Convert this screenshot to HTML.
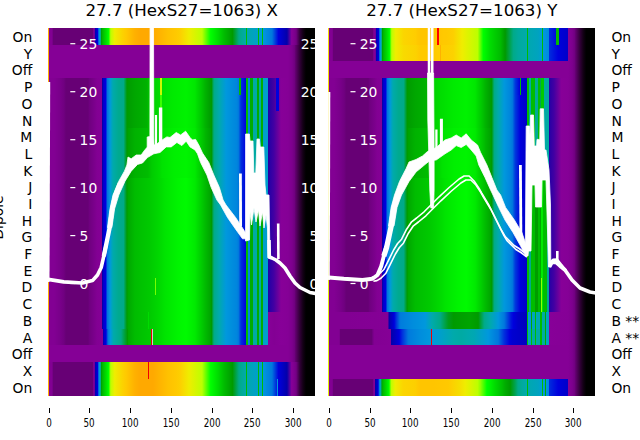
<!DOCTYPE html>
<html><head><meta charset="utf-8"><title>27.7 (HexS27=1063)</title>
<style>html,body{margin:0;padding:0;background:#fff;overflow:hidden;width:640px;height:440px}svg{display:block}</style></head>
<body>
<svg width="640" height="440" viewBox="0 0 640 440">
<defs>
<clipPath id="c0"><rect x="48.0" y="28.0" width="267.0" height="367.30"/></clipPath>
<linearGradient id="g0" x1="0" y1="0" x2="1" y2="0"><stop offset="0.0000" stop-color="#ffad00"/><stop offset="0.0034" stop-color="#ffad00"/><stop offset="0.0034" stop-color="#820093"/><stop offset="0.0150" stop-color="#820093"/><stop offset="0.0183" stop-color="#700080"/><stop offset="0.0187" stop-color="#670075"/><stop offset="0.1667" stop-color="#670075"/><stop offset="0.1671" stop-color="#700080"/><stop offset="0.1712" stop-color="#820093"/><stop offset="0.1738" stop-color="#850096"/><stop offset="0.1740" stop-color="#870098"/><stop offset="0.1749" stop-color="#0300aa"/><stop offset="0.1861" stop-color="#0000dd"/><stop offset="0.1897" stop-color="#0078dd"/><stop offset="0.1918" stop-color="#008add"/><stop offset="0.1927" stop-color="#0098dd"/><stop offset="0.1950" stop-color="#00aaab"/><stop offset="0.1974" stop-color="#00aa88"/><stop offset="0.1997" stop-color="#009a00"/><stop offset="0.2011" stop-color="#00ac00"/><stop offset="0.2056" stop-color="#00bc00"/><stop offset="0.2169" stop-color="#00dc00"/><stop offset="0.2236" stop-color="#00f200"/><stop offset="0.2268" stop-color="#00ff00"/><stop offset="0.2348" stop-color="#bcff00"/><stop offset="0.2498" stop-color="#efed00"/><stop offset="0.2798" stop-color="#fcd200"/><stop offset="0.2926" stop-color="#ffc900"/><stop offset="0.3247" stop-color="#ffb100"/><stop offset="0.3446" stop-color="#ffa900"/><stop offset="0.3933" stop-color="#ffa900"/><stop offset="0.4494" stop-color="#ffc100"/><stop offset="0.4794" stop-color="#ffc900"/><stop offset="0.4944" stop-color="#fdcf00"/><stop offset="0.5281" stop-color="#efed00"/><stop offset="0.5768" stop-color="#bcff00"/><stop offset="0.6090" stop-color="#00ff00"/><stop offset="0.6367" stop-color="#00dc00"/><stop offset="0.6592" stop-color="#00bc00"/><stop offset="0.6910" stop-color="#009a00"/><stop offset="0.7154" stop-color="#00aa88"/><stop offset="0.7416" stop-color="#00aaab"/><stop offset="0.7427" stop-color="#00aaab"/><stop offset="0.7427" stop-color="#00bc00"/><stop offset="0.7464" stop-color="#00bc00"/><stop offset="0.7464" stop-color="#00a8af"/><stop offset="0.7865" stop-color="#009fcb"/><stop offset="0.7880" stop-color="#009fcb"/><stop offset="0.7880" stop-color="#00bc00"/><stop offset="0.7914" stop-color="#00bc00"/><stop offset="0.7914" stop-color="#009ecf"/><stop offset="0.8000" stop-color="#009bd7"/><stop offset="0.8000" stop-color="#00bc00"/><stop offset="0.8034" stop-color="#00bc00"/><stop offset="0.8034" stop-color="#009adb"/><stop offset="0.8052" stop-color="#0098dd"/><stop offset="0.8390" stop-color="#0078dd"/><stop offset="0.8633" stop-color="#0000dd"/><stop offset="0.8951" stop-color="#0300aa"/><stop offset="0.9124" stop-color="#870098"/><stop offset="0.9251" stop-color="#7a008b"/><stop offset="0.9300" stop-color="#700080"/><stop offset="0.9438" stop-color="#2f0035"/><stop offset="0.9551" stop-color="#130015"/><stop offset="0.9663" stop-color="#000000"/><stop offset="1.0000" stop-color="#000000"/></linearGradient>
<linearGradient id="g1" x1="0" y1="0" x2="1" y2="0"><stop offset="0.0000" stop-color="#ffad00"/><stop offset="0.0034" stop-color="#ffad00"/><stop offset="0.0034" stop-color="#850096"/><stop offset="0.8801" stop-color="#850096"/><stop offset="0.8989" stop-color="#850096"/><stop offset="0.9139" stop-color="#7d008e"/><stop offset="0.9232" stop-color="#700080"/><stop offset="0.9251" stop-color="#670075"/><stop offset="0.9438" stop-color="#2f0035"/><stop offset="0.9551" stop-color="#130015"/><stop offset="0.9663" stop-color="#000000"/><stop offset="1.0000" stop-color="#000000"/></linearGradient>
<linearGradient id="g2" x1="0" y1="0" x2="1" y2="0"><stop offset="0.0000" stop-color="#ffad00"/><stop offset="0.0034" stop-color="#ffad00"/><stop offset="0.0034" stop-color="#820093"/><stop offset="0.0225" stop-color="#820093"/><stop offset="0.0449" stop-color="#79008a"/><stop offset="0.0599" stop-color="#700080"/><stop offset="0.0674" stop-color="#670075"/><stop offset="0.1498" stop-color="#670075"/><stop offset="0.1558" stop-color="#700080"/><stop offset="0.1723" stop-color="#7a008b"/><stop offset="0.1835" stop-color="#820093"/><stop offset="0.2030" stop-color="#850096"/><stop offset="0.2032" stop-color="#870098"/><stop offset="0.2041" stop-color="#0300aa"/><stop offset="0.2079" stop-color="#0000cd"/><stop offset="0.2154" stop-color="#0000dd"/><stop offset="0.2228" stop-color="#0078dd"/><stop offset="0.2322" stop-color="#0098dd"/><stop offset="0.2434" stop-color="#00aaab"/><stop offset="0.2640" stop-color="#00aa90"/><stop offset="0.2828" stop-color="#00aa88"/><stop offset="0.2959" stop-color="#009a00"/><stop offset="0.2996" stop-color="#009c00"/><stop offset="0.3258" stop-color="#00a700"/><stop offset="0.3708" stop-color="#00b200"/><stop offset="0.3750" stop-color="#00bc00"/><stop offset="0.3820" stop-color="#00cc00"/><stop offset="0.4195" stop-color="#00dc00"/><stop offset="0.4195" stop-color="#ccf900"/><stop offset="0.4266" stop-color="#ccf900"/><stop offset="0.4266" stop-color="#00df00"/><stop offset="0.4682" stop-color="#00ea00"/><stop offset="0.5169" stop-color="#00f200"/><stop offset="0.5506" stop-color="#00e700"/><stop offset="0.5581" stop-color="#00dc00"/><stop offset="0.5730" stop-color="#00ca00"/><stop offset="0.5830" stop-color="#00bc00"/><stop offset="0.5880" stop-color="#00b400"/><stop offset="0.6067" stop-color="#009f00"/><stop offset="0.6124" stop-color="#009a00"/><stop offset="0.6217" stop-color="#00aa88"/><stop offset="0.6404" stop-color="#00aaab"/><stop offset="0.6667" stop-color="#0098dd"/><stop offset="0.7079" stop-color="#0085dd"/><stop offset="0.7139" stop-color="#0078dd"/><stop offset="0.7169" stop-color="#005ddd"/><stop offset="0.7169" stop-color="#00bc00"/><stop offset="0.7236" stop-color="#00bc00"/><stop offset="0.7236" stop-color="#002fdd"/><stop offset="0.7416" stop-color="#0000dd"/><stop offset="0.7434" stop-color="#0000dd"/><stop offset="0.7434" stop-color="#00bc00"/><stop offset="0.7509" stop-color="#00bc00"/><stop offset="0.7509" stop-color="#0085dd"/><stop offset="0.7584" stop-color="#0085dd"/><stop offset="0.7584" stop-color="#00ac00"/><stop offset="0.7678" stop-color="#00ac00"/><stop offset="0.7678" stop-color="#00aaa3"/><stop offset="0.7846" stop-color="#00aaa3"/><stop offset="0.7846" stop-color="#00ac00"/><stop offset="0.7903" stop-color="#00ac00"/><stop offset="0.7903" stop-color="#00aaa3"/><stop offset="0.7963" stop-color="#00aaa3"/><stop offset="0.7963" stop-color="#00ac00"/><stop offset="0.8052" stop-color="#00ac00"/><stop offset="0.8052" stop-color="#009fcb"/><stop offset="0.8258" stop-color="#009fcb"/><stop offset="0.8258" stop-color="#2300a6"/><stop offset="0.8464" stop-color="#4300a2"/><stop offset="0.8539" stop-color="#58009f"/><stop offset="0.8539" stop-color="#0000dd"/><stop offset="0.8652" stop-color="#0000dd"/><stop offset="0.8652" stop-color="#78009b"/><stop offset="0.8727" stop-color="#870098"/><stop offset="0.8989" stop-color="#850096"/><stop offset="0.9139" stop-color="#7d008e"/><stop offset="0.9232" stop-color="#700080"/><stop offset="0.9251" stop-color="#670075"/><stop offset="0.9438" stop-color="#2f0035"/><stop offset="0.9551" stop-color="#130015"/><stop offset="0.9663" stop-color="#000000"/><stop offset="1.0000" stop-color="#000000"/></linearGradient>
<linearGradient id="g3" x1="0" y1="0" x2="1" y2="0"><stop offset="0.0000" stop-color="#ffad00"/><stop offset="0.0034" stop-color="#ffad00"/><stop offset="0.0034" stop-color="#820093"/><stop offset="0.0225" stop-color="#820093"/><stop offset="0.0449" stop-color="#79008a"/><stop offset="0.0599" stop-color="#700080"/><stop offset="0.0674" stop-color="#670075"/><stop offset="0.1498" stop-color="#670075"/><stop offset="0.1558" stop-color="#700080"/><stop offset="0.1723" stop-color="#7a008b"/><stop offset="0.1835" stop-color="#820093"/><stop offset="0.2030" stop-color="#850096"/><stop offset="0.2032" stop-color="#870098"/><stop offset="0.2041" stop-color="#0300aa"/><stop offset="0.2079" stop-color="#0000cd"/><stop offset="0.2154" stop-color="#0000dd"/><stop offset="0.2228" stop-color="#0078dd"/><stop offset="0.2322" stop-color="#0098dd"/><stop offset="0.2434" stop-color="#00aaab"/><stop offset="0.2640" stop-color="#00aa90"/><stop offset="0.2828" stop-color="#00aa88"/><stop offset="0.2959" stop-color="#009a00"/><stop offset="0.2996" stop-color="#009c00"/><stop offset="0.3258" stop-color="#00a700"/><stop offset="0.3708" stop-color="#00b200"/><stop offset="0.3750" stop-color="#00bc00"/><stop offset="0.3820" stop-color="#00cc00"/><stop offset="0.4195" stop-color="#00dc00"/><stop offset="0.4206" stop-color="#00dc00"/><stop offset="0.4206" stop-color="#3bff00"/><stop offset="0.4251" stop-color="#3bff00"/><stop offset="0.4251" stop-color="#00df00"/><stop offset="0.4682" stop-color="#00ea00"/><stop offset="0.5169" stop-color="#00f200"/><stop offset="0.5506" stop-color="#00e700"/><stop offset="0.5581" stop-color="#00dc00"/><stop offset="0.5730" stop-color="#00ca00"/><stop offset="0.5830" stop-color="#00bc00"/><stop offset="0.5880" stop-color="#00b400"/><stop offset="0.6067" stop-color="#009f00"/><stop offset="0.6124" stop-color="#009a00"/><stop offset="0.6217" stop-color="#00aa88"/><stop offset="0.6404" stop-color="#00aaab"/><stop offset="0.6667" stop-color="#0098dd"/><stop offset="0.7079" stop-color="#0085dd"/><stop offset="0.7139" stop-color="#0078dd"/><stop offset="0.7228" stop-color="#002fdd"/><stop offset="0.7416" stop-color="#0000dd"/><stop offset="0.7434" stop-color="#0000dd"/><stop offset="0.7434" stop-color="#00bc00"/><stop offset="0.7509" stop-color="#00bc00"/><stop offset="0.7509" stop-color="#0085dd"/><stop offset="0.7584" stop-color="#0085dd"/><stop offset="0.7584" stop-color="#00ac00"/><stop offset="0.7678" stop-color="#00ac00"/><stop offset="0.7678" stop-color="#00aaa3"/><stop offset="0.7846" stop-color="#00aaa3"/><stop offset="0.7846" stop-color="#00ac00"/><stop offset="0.7903" stop-color="#00ac00"/><stop offset="0.7903" stop-color="#00aaa3"/><stop offset="0.7963" stop-color="#00aaa3"/><stop offset="0.7963" stop-color="#00ac00"/><stop offset="0.8052" stop-color="#00ac00"/><stop offset="0.8052" stop-color="#009fcb"/><stop offset="0.8258" stop-color="#009fcb"/><stop offset="0.8258" stop-color="#2300a6"/><stop offset="0.8464" stop-color="#4300a2"/><stop offset="0.8539" stop-color="#58009f"/><stop offset="0.8539" stop-color="#0000dd"/><stop offset="0.8652" stop-color="#0000dd"/><stop offset="0.8652" stop-color="#78009b"/><stop offset="0.8727" stop-color="#870098"/><stop offset="0.8989" stop-color="#850096"/><stop offset="0.9139" stop-color="#7d008e"/><stop offset="0.9232" stop-color="#700080"/><stop offset="0.9251" stop-color="#670075"/><stop offset="0.9438" stop-color="#2f0035"/><stop offset="0.9551" stop-color="#130015"/><stop offset="0.9663" stop-color="#000000"/><stop offset="1.0000" stop-color="#000000"/></linearGradient>
<linearGradient id="g4" x1="0" y1="0" x2="1" y2="0"><stop offset="0.0000" stop-color="#ffad00"/><stop offset="0.0034" stop-color="#ffad00"/><stop offset="0.0034" stop-color="#820093"/><stop offset="0.0225" stop-color="#820093"/><stop offset="0.0449" stop-color="#79008a"/><stop offset="0.0599" stop-color="#700080"/><stop offset="0.0674" stop-color="#670075"/><stop offset="0.1498" stop-color="#670075"/><stop offset="0.1558" stop-color="#700080"/><stop offset="0.1723" stop-color="#7a008b"/><stop offset="0.1835" stop-color="#820093"/><stop offset="0.2030" stop-color="#850096"/><stop offset="0.2032" stop-color="#870098"/><stop offset="0.2041" stop-color="#0300aa"/><stop offset="0.2079" stop-color="#0000cd"/><stop offset="0.2154" stop-color="#0000dd"/><stop offset="0.2228" stop-color="#0078dd"/><stop offset="0.2322" stop-color="#0098dd"/><stop offset="0.2434" stop-color="#00aaab"/><stop offset="0.2640" stop-color="#00aa90"/><stop offset="0.2828" stop-color="#00aa88"/><stop offset="0.2959" stop-color="#009a00"/><stop offset="0.2996" stop-color="#009c00"/><stop offset="0.3258" stop-color="#00a700"/><stop offset="0.3708" stop-color="#00b200"/><stop offset="0.3750" stop-color="#00bc00"/><stop offset="0.3820" stop-color="#00cc00"/><stop offset="0.4195" stop-color="#00dc00"/><stop offset="0.4682" stop-color="#00ea00"/><stop offset="0.5169" stop-color="#00f200"/><stop offset="0.5506" stop-color="#00e700"/><stop offset="0.5581" stop-color="#00dc00"/><stop offset="0.5730" stop-color="#00ca00"/><stop offset="0.5830" stop-color="#00bc00"/><stop offset="0.5880" stop-color="#00b400"/><stop offset="0.6067" stop-color="#009f00"/><stop offset="0.6124" stop-color="#009a00"/><stop offset="0.6217" stop-color="#00aa88"/><stop offset="0.6404" stop-color="#00aaab"/><stop offset="0.6667" stop-color="#0098dd"/><stop offset="0.7079" stop-color="#0085dd"/><stop offset="0.7139" stop-color="#0078dd"/><stop offset="0.7228" stop-color="#002fdd"/><stop offset="0.7416" stop-color="#0000dd"/><stop offset="0.7434" stop-color="#0000dd"/><stop offset="0.7434" stop-color="#00bc00"/><stop offset="0.7509" stop-color="#00bc00"/><stop offset="0.7509" stop-color="#0085dd"/><stop offset="0.7584" stop-color="#0085dd"/><stop offset="0.7584" stop-color="#00ac00"/><stop offset="0.7678" stop-color="#00ac00"/><stop offset="0.7678" stop-color="#00aaa3"/><stop offset="0.7846" stop-color="#00aaa3"/><stop offset="0.7846" stop-color="#00ac00"/><stop offset="0.7903" stop-color="#00ac00"/><stop offset="0.7903" stop-color="#00aaa3"/><stop offset="0.7963" stop-color="#00aaa3"/><stop offset="0.7963" stop-color="#00ac00"/><stop offset="0.8052" stop-color="#00ac00"/><stop offset="0.8052" stop-color="#009fcb"/><stop offset="0.8258" stop-color="#009fcb"/><stop offset="0.8258" stop-color="#2300a6"/><stop offset="0.8464" stop-color="#4300a2"/><stop offset="0.8727" stop-color="#870098"/><stop offset="0.8989" stop-color="#850096"/><stop offset="0.9139" stop-color="#7d008e"/><stop offset="0.9232" stop-color="#700080"/><stop offset="0.9251" stop-color="#670075"/><stop offset="0.9438" stop-color="#2f0035"/><stop offset="0.9551" stop-color="#130015"/><stop offset="0.9663" stop-color="#000000"/><stop offset="1.0000" stop-color="#000000"/></linearGradient>
<linearGradient id="g5" x1="0" y1="0" x2="1" y2="0"><stop offset="0.0000" stop-color="#ffad00"/><stop offset="0.0034" stop-color="#ffad00"/><stop offset="0.0034" stop-color="#820093"/><stop offset="0.0225" stop-color="#820093"/><stop offset="0.0449" stop-color="#79008a"/><stop offset="0.0599" stop-color="#700080"/><stop offset="0.0674" stop-color="#670075"/><stop offset="0.1498" stop-color="#670075"/><stop offset="0.1558" stop-color="#700080"/><stop offset="0.1723" stop-color="#7a008b"/><stop offset="0.1835" stop-color="#820093"/><stop offset="0.2030" stop-color="#850096"/><stop offset="0.2032" stop-color="#870098"/><stop offset="0.2041" stop-color="#0300aa"/><stop offset="0.2079" stop-color="#0000cd"/><stop offset="0.2154" stop-color="#0000dd"/><stop offset="0.2228" stop-color="#0078dd"/><stop offset="0.2322" stop-color="#0098dd"/><stop offset="0.2434" stop-color="#00aaab"/><stop offset="0.2640" stop-color="#00aa90"/><stop offset="0.2828" stop-color="#00aa88"/><stop offset="0.2959" stop-color="#009a00"/><stop offset="0.2996" stop-color="#00a200"/><stop offset="0.3258" stop-color="#00b200"/><stop offset="0.3745" stop-color="#00bc00"/><stop offset="0.3895" stop-color="#00cc00"/><stop offset="0.4207" stop-color="#00dc00"/><stop offset="0.4270" stop-color="#00e200"/><stop offset="0.4719" stop-color="#00ef00"/><stop offset="0.5169" stop-color="#00f400"/><stop offset="0.5506" stop-color="#00ea00"/><stop offset="0.5600" stop-color="#00dc00"/><stop offset="0.5730" stop-color="#00cc00"/><stop offset="0.5855" stop-color="#00bc00"/><stop offset="0.5880" stop-color="#00b700"/><stop offset="0.6067" stop-color="#00a400"/><stop offset="0.6124" stop-color="#009a00"/><stop offset="0.6217" stop-color="#00aa88"/><stop offset="0.6404" stop-color="#00aaab"/><stop offset="0.6667" stop-color="#0098dd"/><stop offset="0.7079" stop-color="#0085dd"/><stop offset="0.7139" stop-color="#0078dd"/><stop offset="0.7228" stop-color="#002fdd"/><stop offset="0.7416" stop-color="#0000dd"/><stop offset="0.7434" stop-color="#0000dd"/><stop offset="0.7434" stop-color="#00bc00"/><stop offset="0.7509" stop-color="#00bc00"/><stop offset="0.7509" stop-color="#0085dd"/><stop offset="0.7584" stop-color="#0085dd"/><stop offset="0.7584" stop-color="#00ac00"/><stop offset="0.7678" stop-color="#00ac00"/><stop offset="0.7678" stop-color="#00aaa3"/><stop offset="0.7846" stop-color="#00aaa3"/><stop offset="0.7846" stop-color="#00ac00"/><stop offset="0.7903" stop-color="#00ac00"/><stop offset="0.7903" stop-color="#00aaa3"/><stop offset="0.7963" stop-color="#00aaa3"/><stop offset="0.7963" stop-color="#00ac00"/><stop offset="0.8052" stop-color="#00ac00"/><stop offset="0.8052" stop-color="#009fcb"/><stop offset="0.8258" stop-color="#009fcb"/><stop offset="0.8258" stop-color="#2300a6"/><stop offset="0.8464" stop-color="#4300a2"/><stop offset="0.8727" stop-color="#870098"/><stop offset="0.8989" stop-color="#850096"/><stop offset="0.9139" stop-color="#7d008e"/><stop offset="0.9232" stop-color="#700080"/><stop offset="0.9251" stop-color="#670075"/><stop offset="0.9438" stop-color="#2f0035"/><stop offset="0.9551" stop-color="#130015"/><stop offset="0.9663" stop-color="#000000"/><stop offset="1.0000" stop-color="#000000"/></linearGradient>
<linearGradient id="g6" x1="0" y1="0" x2="1" y2="0"><stop offset="0.0000" stop-color="#ffad00"/><stop offset="0.0034" stop-color="#ffad00"/><stop offset="0.0034" stop-color="#820093"/><stop offset="0.0225" stop-color="#820093"/><stop offset="0.0449" stop-color="#79008a"/><stop offset="0.0599" stop-color="#700080"/><stop offset="0.0674" stop-color="#670075"/><stop offset="0.1498" stop-color="#670075"/><stop offset="0.1558" stop-color="#700080"/><stop offset="0.1723" stop-color="#7a008b"/><stop offset="0.1835" stop-color="#820093"/><stop offset="0.2030" stop-color="#850096"/><stop offset="0.2032" stop-color="#870098"/><stop offset="0.2041" stop-color="#0300aa"/><stop offset="0.2079" stop-color="#0000cd"/><stop offset="0.2154" stop-color="#0000dd"/><stop offset="0.2228" stop-color="#0078dd"/><stop offset="0.2322" stop-color="#0098dd"/><stop offset="0.2434" stop-color="#00aaab"/><stop offset="0.2640" stop-color="#00aa90"/><stop offset="0.2828" stop-color="#00aa88"/><stop offset="0.2959" stop-color="#009a00"/><stop offset="0.2996" stop-color="#00a700"/><stop offset="0.3258" stop-color="#00bc00"/><stop offset="0.3820" stop-color="#00ca00"/><stop offset="0.4242" stop-color="#00dc00"/><stop offset="0.4382" stop-color="#00e400"/><stop offset="0.4869" stop-color="#00f400"/><stop offset="0.5169" stop-color="#00fa00"/><stop offset="0.5506" stop-color="#00ea00"/><stop offset="0.5618" stop-color="#00dc00"/><stop offset="0.5730" stop-color="#00cf00"/><stop offset="0.5880" stop-color="#00bc00"/><stop offset="0.6067" stop-color="#00a700"/><stop offset="0.6124" stop-color="#009a00"/><stop offset="0.6217" stop-color="#00aa88"/><stop offset="0.6404" stop-color="#00aaab"/><stop offset="0.6667" stop-color="#0098dd"/><stop offset="0.7079" stop-color="#0085dd"/><stop offset="0.7139" stop-color="#0078dd"/><stop offset="0.7228" stop-color="#002fdd"/><stop offset="0.7416" stop-color="#0000dd"/><stop offset="0.7434" stop-color="#0000dd"/><stop offset="0.7434" stop-color="#00bc00"/><stop offset="0.7509" stop-color="#00bc00"/><stop offset="0.7509" stop-color="#0085dd"/><stop offset="0.7584" stop-color="#0085dd"/><stop offset="0.7584" stop-color="#00ac00"/><stop offset="0.7678" stop-color="#00ac00"/><stop offset="0.7678" stop-color="#00aaa3"/><stop offset="0.7846" stop-color="#00aaa3"/><stop offset="0.7846" stop-color="#00ac00"/><stop offset="0.7903" stop-color="#00ac00"/><stop offset="0.7903" stop-color="#00aaa3"/><stop offset="0.7963" stop-color="#00aaa3"/><stop offset="0.7963" stop-color="#00ac00"/><stop offset="0.8052" stop-color="#00ac00"/><stop offset="0.8052" stop-color="#009fcb"/><stop offset="0.8258" stop-color="#009fcb"/><stop offset="0.8258" stop-color="#2300a6"/><stop offset="0.8464" stop-color="#4300a2"/><stop offset="0.8727" stop-color="#870098"/><stop offset="0.8989" stop-color="#850096"/><stop offset="0.9139" stop-color="#7d008e"/><stop offset="0.9232" stop-color="#700080"/><stop offset="0.9251" stop-color="#670075"/><stop offset="0.9438" stop-color="#2f0035"/><stop offset="0.9551" stop-color="#130015"/><stop offset="0.9663" stop-color="#000000"/><stop offset="1.0000" stop-color="#000000"/></linearGradient>
<linearGradient id="g7" x1="0" y1="0" x2="1" y2="0"><stop offset="0.0000" stop-color="#ffad00"/><stop offset="0.0034" stop-color="#ffad00"/><stop offset="0.0034" stop-color="#820093"/><stop offset="0.0225" stop-color="#820093"/><stop offset="0.0449" stop-color="#79008a"/><stop offset="0.0599" stop-color="#700080"/><stop offset="0.0674" stop-color="#670075"/><stop offset="0.1498" stop-color="#670075"/><stop offset="0.1558" stop-color="#700080"/><stop offset="0.1723" stop-color="#7a008b"/><stop offset="0.1835" stop-color="#820093"/><stop offset="0.2030" stop-color="#850096"/><stop offset="0.2032" stop-color="#870098"/><stop offset="0.2041" stop-color="#0300aa"/><stop offset="0.2079" stop-color="#0000cd"/><stop offset="0.2154" stop-color="#0000dd"/><stop offset="0.2228" stop-color="#0078dd"/><stop offset="0.2322" stop-color="#0098dd"/><stop offset="0.2434" stop-color="#00aaab"/><stop offset="0.2640" stop-color="#00aa90"/><stop offset="0.2828" stop-color="#00aa88"/><stop offset="0.2959" stop-color="#009a00"/><stop offset="0.2996" stop-color="#00a700"/><stop offset="0.3258" stop-color="#00bc00"/><stop offset="0.3820" stop-color="#00ca00"/><stop offset="0.4015" stop-color="#00d200"/><stop offset="0.4015" stop-color="#75ff00"/><stop offset="0.4052" stop-color="#75ff00"/><stop offset="0.4052" stop-color="#00d400"/><stop offset="0.4242" stop-color="#00dc00"/><stop offset="0.4382" stop-color="#00e400"/><stop offset="0.4869" stop-color="#00f400"/><stop offset="0.5169" stop-color="#00fa00"/><stop offset="0.5506" stop-color="#00ea00"/><stop offset="0.5618" stop-color="#00dc00"/><stop offset="0.5730" stop-color="#00cf00"/><stop offset="0.5880" stop-color="#00bc00"/><stop offset="0.6067" stop-color="#00a700"/><stop offset="0.6124" stop-color="#009a00"/><stop offset="0.6217" stop-color="#00aa88"/><stop offset="0.6404" stop-color="#00aaab"/><stop offset="0.6667" stop-color="#0098dd"/><stop offset="0.7079" stop-color="#0085dd"/><stop offset="0.7139" stop-color="#0078dd"/><stop offset="0.7228" stop-color="#002fdd"/><stop offset="0.7416" stop-color="#0000dd"/><stop offset="0.7434" stop-color="#0000dd"/><stop offset="0.7434" stop-color="#00bc00"/><stop offset="0.7509" stop-color="#00bc00"/><stop offset="0.7509" stop-color="#0085dd"/><stop offset="0.7584" stop-color="#0085dd"/><stop offset="0.7584" stop-color="#00ac00"/><stop offset="0.7678" stop-color="#00ac00"/><stop offset="0.7678" stop-color="#00aaa3"/><stop offset="0.7846" stop-color="#00aaa3"/><stop offset="0.7846" stop-color="#00ac00"/><stop offset="0.7903" stop-color="#00ac00"/><stop offset="0.7903" stop-color="#00aaa3"/><stop offset="0.7963" stop-color="#00aaa3"/><stop offset="0.7963" stop-color="#00ac00"/><stop offset="0.8052" stop-color="#00ac00"/><stop offset="0.8052" stop-color="#009fcb"/><stop offset="0.8258" stop-color="#009fcb"/><stop offset="0.8258" stop-color="#2300a6"/><stop offset="0.8464" stop-color="#4300a2"/><stop offset="0.8727" stop-color="#870098"/><stop offset="0.8989" stop-color="#850096"/><stop offset="0.9139" stop-color="#7d008e"/><stop offset="0.9232" stop-color="#700080"/><stop offset="0.9251" stop-color="#670075"/><stop offset="0.9438" stop-color="#2f0035"/><stop offset="0.9551" stop-color="#130015"/><stop offset="0.9663" stop-color="#000000"/><stop offset="1.0000" stop-color="#000000"/></linearGradient>
<linearGradient id="g8" x1="0" y1="0" x2="1" y2="0"><stop offset="0.0000" stop-color="#ffad00"/><stop offset="0.0034" stop-color="#ffad00"/><stop offset="0.0034" stop-color="#820093"/><stop offset="0.0225" stop-color="#820093"/><stop offset="0.0449" stop-color="#79008a"/><stop offset="0.0599" stop-color="#700080"/><stop offset="0.0674" stop-color="#670075"/><stop offset="0.1498" stop-color="#670075"/><stop offset="0.1558" stop-color="#700080"/><stop offset="0.1723" stop-color="#7a008b"/><stop offset="0.1835" stop-color="#820093"/><stop offset="0.2030" stop-color="#850096"/><stop offset="0.2032" stop-color="#870098"/><stop offset="0.2041" stop-color="#0300aa"/><stop offset="0.2079" stop-color="#0000cd"/><stop offset="0.2154" stop-color="#0000dd"/><stop offset="0.2228" stop-color="#0078dd"/><stop offset="0.2322" stop-color="#0098dd"/><stop offset="0.2434" stop-color="#00aaab"/><stop offset="0.2640" stop-color="#00aa90"/><stop offset="0.2828" stop-color="#00aa88"/><stop offset="0.2959" stop-color="#009a00"/><stop offset="0.2996" stop-color="#00a700"/><stop offset="0.3258" stop-color="#00bc00"/><stop offset="0.3757" stop-color="#00c700"/><stop offset="0.3757" stop-color="#00dc00"/><stop offset="0.3783" stop-color="#00dc00"/><stop offset="0.3783" stop-color="#00c700"/><stop offset="0.3820" stop-color="#00ca00"/><stop offset="0.4242" stop-color="#00dc00"/><stop offset="0.4382" stop-color="#00e400"/><stop offset="0.4869" stop-color="#00f400"/><stop offset="0.5169" stop-color="#00fa00"/><stop offset="0.5506" stop-color="#00ea00"/><stop offset="0.5618" stop-color="#00dc00"/><stop offset="0.5730" stop-color="#00cf00"/><stop offset="0.5880" stop-color="#00bc00"/><stop offset="0.6067" stop-color="#00a700"/><stop offset="0.6124" stop-color="#009a00"/><stop offset="0.6217" stop-color="#00aa88"/><stop offset="0.6404" stop-color="#00aaab"/><stop offset="0.6667" stop-color="#0098dd"/><stop offset="0.7079" stop-color="#0085dd"/><stop offset="0.7139" stop-color="#0078dd"/><stop offset="0.7228" stop-color="#002fdd"/><stop offset="0.7416" stop-color="#0000dd"/><stop offset="0.7434" stop-color="#0000dd"/><stop offset="0.7434" stop-color="#00bc00"/><stop offset="0.7509" stop-color="#00bc00"/><stop offset="0.7509" stop-color="#0085dd"/><stop offset="0.7584" stop-color="#0085dd"/><stop offset="0.7584" stop-color="#00ac00"/><stop offset="0.7678" stop-color="#00ac00"/><stop offset="0.7678" stop-color="#00aaa3"/><stop offset="0.7846" stop-color="#00aaa3"/><stop offset="0.7846" stop-color="#00ac00"/><stop offset="0.7903" stop-color="#00ac00"/><stop offset="0.7903" stop-color="#00aaa3"/><stop offset="0.7963" stop-color="#00aaa3"/><stop offset="0.7963" stop-color="#00ac00"/><stop offset="0.8052" stop-color="#00ac00"/><stop offset="0.8052" stop-color="#009fcb"/><stop offset="0.8258" stop-color="#009fcb"/><stop offset="0.8258" stop-color="#870098"/><stop offset="0.8464" stop-color="#830094"/><stop offset="0.8727" stop-color="#870098"/><stop offset="0.8989" stop-color="#850096"/><stop offset="0.9139" stop-color="#7d008e"/><stop offset="0.9232" stop-color="#700080"/><stop offset="0.9251" stop-color="#670075"/><stop offset="0.9438" stop-color="#2f0035"/><stop offset="0.9551" stop-color="#130015"/><stop offset="0.9663" stop-color="#000000"/><stop offset="1.0000" stop-color="#000000"/></linearGradient>
<linearGradient id="g9" x1="0" y1="0" x2="1" y2="0"><stop offset="0.0000" stop-color="#ffad00"/><stop offset="0.0034" stop-color="#ffad00"/><stop offset="0.0034" stop-color="#820093"/><stop offset="0.0225" stop-color="#820093"/><stop offset="0.0449" stop-color="#79008a"/><stop offset="0.0599" stop-color="#700080"/><stop offset="0.0674" stop-color="#670075"/><stop offset="0.1498" stop-color="#670075"/><stop offset="0.1558" stop-color="#700080"/><stop offset="0.1723" stop-color="#7a008b"/><stop offset="0.1835" stop-color="#820093"/><stop offset="0.2049" stop-color="#850096"/><stop offset="0.2051" stop-color="#870098"/><stop offset="0.2060" stop-color="#0300aa"/><stop offset="0.2097" stop-color="#0000cd"/><stop offset="0.2172" stop-color="#0000dd"/><stop offset="0.2247" stop-color="#0078dd"/><stop offset="0.2341" stop-color="#0098dd"/><stop offset="0.2453" stop-color="#00aaab"/><stop offset="0.2659" stop-color="#00aa90"/><stop offset="0.2734" stop-color="#00aa88"/><stop offset="0.2978" stop-color="#009a00"/><stop offset="0.2996" stop-color="#00a700"/><stop offset="0.3258" stop-color="#00bc00"/><stop offset="0.3820" stop-color="#00ca00"/><stop offset="0.3869" stop-color="#00cc00"/><stop offset="0.3869" stop-color="#e90000"/><stop offset="0.3895" stop-color="#e90000"/><stop offset="0.3895" stop-color="#cccccc"/><stop offset="0.3921" stop-color="#cccccc"/><stop offset="0.3921" stop-color="#00cc00"/><stop offset="0.4242" stop-color="#00dc00"/><stop offset="0.4382" stop-color="#00e400"/><stop offset="0.4869" stop-color="#00f400"/><stop offset="0.5169" stop-color="#00fa00"/><stop offset="0.5506" stop-color="#00ea00"/><stop offset="0.5618" stop-color="#00dc00"/><stop offset="0.5730" stop-color="#00cf00"/><stop offset="0.5880" stop-color="#00bc00"/><stop offset="0.6067" stop-color="#00a700"/><stop offset="0.6124" stop-color="#009a00"/><stop offset="0.6217" stop-color="#00aa88"/><stop offset="0.6404" stop-color="#00aaab"/><stop offset="0.6667" stop-color="#0098dd"/><stop offset="0.7079" stop-color="#0085dd"/><stop offset="0.7139" stop-color="#0078dd"/><stop offset="0.7228" stop-color="#002fdd"/><stop offset="0.7416" stop-color="#0000dd"/><stop offset="0.7434" stop-color="#0000dd"/><stop offset="0.7434" stop-color="#00bc00"/><stop offset="0.7509" stop-color="#00bc00"/><stop offset="0.7509" stop-color="#0085dd"/><stop offset="0.7584" stop-color="#0085dd"/><stop offset="0.7584" stop-color="#00ac00"/><stop offset="0.7678" stop-color="#00ac00"/><stop offset="0.7678" stop-color="#00aaa3"/><stop offset="0.7846" stop-color="#00aaa3"/><stop offset="0.7846" stop-color="#00ac00"/><stop offset="0.7903" stop-color="#00ac00"/><stop offset="0.7903" stop-color="#00aaa3"/><stop offset="0.7963" stop-color="#00aaa3"/><stop offset="0.7963" stop-color="#00ac00"/><stop offset="0.8052" stop-color="#00ac00"/><stop offset="0.8052" stop-color="#009fcb"/><stop offset="0.8258" stop-color="#009fcb"/><stop offset="0.8258" stop-color="#870098"/><stop offset="0.8464" stop-color="#830094"/><stop offset="0.8727" stop-color="#870098"/><stop offset="0.8989" stop-color="#850096"/><stop offset="0.9139" stop-color="#7d008e"/><stop offset="0.9232" stop-color="#700080"/><stop offset="0.9251" stop-color="#670075"/><stop offset="0.9438" stop-color="#2f0035"/><stop offset="0.9551" stop-color="#130015"/><stop offset="0.9663" stop-color="#000000"/><stop offset="1.0000" stop-color="#000000"/></linearGradient>
<linearGradient id="g10" x1="0" y1="0" x2="1" y2="0"><stop offset="0.0000" stop-color="#ffad00"/><stop offset="0.0034" stop-color="#ffad00"/><stop offset="0.0034" stop-color="#820093"/><stop offset="0.0150" stop-color="#820093"/><stop offset="0.0183" stop-color="#700080"/><stop offset="0.0187" stop-color="#670075"/><stop offset="0.1667" stop-color="#670075"/><stop offset="0.1671" stop-color="#700080"/><stop offset="0.1712" stop-color="#820093"/><stop offset="0.1738" stop-color="#850096"/><stop offset="0.1740" stop-color="#870098"/><stop offset="0.1749" stop-color="#0300aa"/><stop offset="0.1861" stop-color="#0000dd"/><stop offset="0.1897" stop-color="#0078dd"/><stop offset="0.1918" stop-color="#008add"/><stop offset="0.1927" stop-color="#0098dd"/><stop offset="0.1950" stop-color="#00aaab"/><stop offset="0.1974" stop-color="#00aa88"/><stop offset="0.1997" stop-color="#009a00"/><stop offset="0.2011" stop-color="#00ac00"/><stop offset="0.2056" stop-color="#00bc00"/><stop offset="0.2169" stop-color="#00dc00"/><stop offset="0.2236" stop-color="#00f200"/><stop offset="0.2268" stop-color="#00ff00"/><stop offset="0.2348" stop-color="#bcff00"/><stop offset="0.2498" stop-color="#efed00"/><stop offset="0.2798" stop-color="#fcd200"/><stop offset="0.2926" stop-color="#ffc900"/><stop offset="0.3247" stop-color="#ffb100"/><stop offset="0.3446" stop-color="#ffa900"/><stop offset="0.3745" stop-color="#ffa900"/><stop offset="0.3745" stop-color="#f10000"/><stop offset="0.3783" stop-color="#f10000"/><stop offset="0.3783" stop-color="#ffa900"/><stop offset="0.3933" stop-color="#ffa900"/><stop offset="0.4494" stop-color="#ffc100"/><stop offset="0.4794" stop-color="#ffc900"/><stop offset="0.4944" stop-color="#fdcf00"/><stop offset="0.5281" stop-color="#efed00"/><stop offset="0.5768" stop-color="#bcff00"/><stop offset="0.6090" stop-color="#00ff00"/><stop offset="0.6367" stop-color="#00dc00"/><stop offset="0.6592" stop-color="#00bc00"/><stop offset="0.6910" stop-color="#009a00"/><stop offset="0.7154" stop-color="#00aa88"/><stop offset="0.7416" stop-color="#00aaab"/><stop offset="0.7427" stop-color="#00aaab"/><stop offset="0.7427" stop-color="#00bc00"/><stop offset="0.7464" stop-color="#00bc00"/><stop offset="0.7464" stop-color="#00a8af"/><stop offset="0.7865" stop-color="#009fcb"/><stop offset="0.7880" stop-color="#009fcb"/><stop offset="0.7880" stop-color="#00bc00"/><stop offset="0.7914" stop-color="#00bc00"/><stop offset="0.7914" stop-color="#009ecf"/><stop offset="0.8000" stop-color="#009bd7"/><stop offset="0.8000" stop-color="#00bc00"/><stop offset="0.8034" stop-color="#00bc00"/><stop offset="0.8034" stop-color="#009adb"/><stop offset="0.8052" stop-color="#0098dd"/><stop offset="0.8390" stop-color="#0078dd"/><stop offset="0.8633" stop-color="#0000dd"/><stop offset="0.8951" stop-color="#0300aa"/><stop offset="0.9124" stop-color="#870098"/><stop offset="0.9251" stop-color="#7a008b"/><stop offset="0.9300" stop-color="#700080"/><stop offset="0.9438" stop-color="#2f0035"/><stop offset="0.9551" stop-color="#130015"/><stop offset="0.9663" stop-color="#000000"/><stop offset="1.0000" stop-color="#000000"/></linearGradient>
<linearGradient id="g11" x1="0" y1="0" x2="1" y2="0"><stop offset="0.0000" stop-color="#ffad00"/><stop offset="0.0034" stop-color="#ffad00"/><stop offset="0.0034" stop-color="#820093"/><stop offset="0.0150" stop-color="#820093"/><stop offset="0.0183" stop-color="#700080"/><stop offset="0.0187" stop-color="#670075"/><stop offset="0.1667" stop-color="#670075"/><stop offset="0.1671" stop-color="#700080"/><stop offset="0.1712" stop-color="#820093"/><stop offset="0.1738" stop-color="#850096"/><stop offset="0.1740" stop-color="#870098"/><stop offset="0.1749" stop-color="#0300aa"/><stop offset="0.1861" stop-color="#0000dd"/><stop offset="0.1897" stop-color="#0078dd"/><stop offset="0.1918" stop-color="#008add"/><stop offset="0.1927" stop-color="#0098dd"/><stop offset="0.1950" stop-color="#00aaab"/><stop offset="0.1974" stop-color="#00aa88"/><stop offset="0.1997" stop-color="#009a00"/><stop offset="0.2011" stop-color="#00ac00"/><stop offset="0.2056" stop-color="#00bc00"/><stop offset="0.2169" stop-color="#00dc00"/><stop offset="0.2236" stop-color="#00f200"/><stop offset="0.2268" stop-color="#00ff00"/><stop offset="0.2348" stop-color="#bcff00"/><stop offset="0.2498" stop-color="#efed00"/><stop offset="0.2798" stop-color="#fcd200"/><stop offset="0.2926" stop-color="#ffc900"/><stop offset="0.3247" stop-color="#ffb100"/><stop offset="0.3446" stop-color="#ffa900"/><stop offset="0.3933" stop-color="#ffa900"/><stop offset="0.4494" stop-color="#ffc100"/><stop offset="0.4794" stop-color="#ffc900"/><stop offset="0.4944" stop-color="#fdcf00"/><stop offset="0.5281" stop-color="#efed00"/><stop offset="0.5768" stop-color="#bcff00"/><stop offset="0.6090" stop-color="#00ff00"/><stop offset="0.6367" stop-color="#00dc00"/><stop offset="0.6592" stop-color="#00bc00"/><stop offset="0.6910" stop-color="#009a00"/><stop offset="0.7154" stop-color="#00aa88"/><stop offset="0.7416" stop-color="#00aaab"/><stop offset="0.7427" stop-color="#00aaab"/><stop offset="0.7427" stop-color="#00bc00"/><stop offset="0.7464" stop-color="#00bc00"/><stop offset="0.7464" stop-color="#00a8af"/><stop offset="0.7865" stop-color="#009fcb"/><stop offset="0.7880" stop-color="#009fcb"/><stop offset="0.7880" stop-color="#00bc00"/><stop offset="0.7914" stop-color="#00bc00"/><stop offset="0.7914" stop-color="#009ecf"/><stop offset="0.8000" stop-color="#009bd7"/><stop offset="0.8000" stop-color="#00bc00"/><stop offset="0.8034" stop-color="#00bc00"/><stop offset="0.8034" stop-color="#009adb"/><stop offset="0.8052" stop-color="#0098dd"/><stop offset="0.8390" stop-color="#0078dd"/><stop offset="0.8577" stop-color="#001cdd"/><stop offset="0.8577" stop-color="#0098dd"/><stop offset="0.8622" stop-color="#0098dd"/><stop offset="0.8622" stop-color="#0000dd"/><stop offset="0.8633" stop-color="#0000dd"/><stop offset="0.8951" stop-color="#0300aa"/><stop offset="0.9124" stop-color="#870098"/><stop offset="0.9251" stop-color="#7a008b"/><stop offset="0.9300" stop-color="#700080"/><stop offset="0.9438" stop-color="#2f0035"/><stop offset="0.9551" stop-color="#130015"/><stop offset="0.9663" stop-color="#000000"/><stop offset="1.0000" stop-color="#000000"/></linearGradient>
<clipPath id="c1"><rect x="328.2" y="28.0" width="267.0" height="367.30"/></clipPath>
<linearGradient id="g12" x1="0" y1="0" x2="1" y2="0"><stop offset="0.0000" stop-color="#f7dd00"/><stop offset="0.0034" stop-color="#f7dd00"/><stop offset="0.0034" stop-color="#820093"/><stop offset="0.0150" stop-color="#820093"/><stop offset="0.0183" stop-color="#700080"/><stop offset="0.0187" stop-color="#670075"/><stop offset="0.1667" stop-color="#670075"/><stop offset="0.1671" stop-color="#700080"/><stop offset="0.1712" stop-color="#820093"/><stop offset="0.1768" stop-color="#850096"/><stop offset="0.1770" stop-color="#870098"/><stop offset="0.1779" stop-color="#0300aa"/><stop offset="0.1891" stop-color="#0000dd"/><stop offset="0.1926" stop-color="#0078dd"/><stop offset="0.1948" stop-color="#008add"/><stop offset="0.1957" stop-color="#0098dd"/><stop offset="0.1980" stop-color="#00aaab"/><stop offset="0.2004" stop-color="#00aa88"/><stop offset="0.2027" stop-color="#009a00"/><stop offset="0.2041" stop-color="#00ac00"/><stop offset="0.2086" stop-color="#00bc00"/><stop offset="0.2199" stop-color="#00dc00"/><stop offset="0.2266" stop-color="#00f200"/><stop offset="0.2298" stop-color="#00ff00"/><stop offset="0.2378" stop-color="#bcff00"/><stop offset="0.2528" stop-color="#efed00"/><stop offset="0.2828" stop-color="#fbd500"/><stop offset="0.3277" stop-color="#ffcd00"/><stop offset="0.3328" stop-color="#ffc900"/><stop offset="0.3446" stop-color="#ffc500"/><stop offset="0.3933" stop-color="#ffc500"/><stop offset="0.4071" stop-color="#ffc500"/><stop offset="0.4071" stop-color="#fc0000"/><stop offset="0.4150" stop-color="#fc0000"/><stop offset="0.4150" stop-color="#ffc500"/><stop offset="0.4307" stop-color="#ffc900"/><stop offset="0.4414" stop-color="#ffc900"/><stop offset="0.4682" stop-color="#fdcf00"/><stop offset="0.5019" stop-color="#efed00"/><stop offset="0.5599" stop-color="#bcff00"/><stop offset="0.5805" stop-color="#00ff00"/><stop offset="0.6067" stop-color="#00dc00"/><stop offset="0.6442" stop-color="#00bc00"/><stop offset="0.6629" stop-color="#009a00"/><stop offset="0.6816" stop-color="#00a353"/><stop offset="0.6936" stop-color="#00aa88"/><stop offset="0.7116" stop-color="#00aa9d"/><stop offset="0.7416" stop-color="#00aaab"/><stop offset="0.7438" stop-color="#00aaab"/><stop offset="0.7438" stop-color="#00bc00"/><stop offset="0.7476" stop-color="#00bc00"/><stop offset="0.7476" stop-color="#00a8af"/><stop offset="0.7865" stop-color="#00a3bf"/><stop offset="0.7918" stop-color="#00a0c7"/><stop offset="0.7918" stop-color="#00bc00"/><stop offset="0.7948" stop-color="#00bc00"/><stop offset="0.7948" stop-color="#009fcb"/><stop offset="0.8007" stop-color="#009bd7"/><stop offset="0.8007" stop-color="#00bc00"/><stop offset="0.8037" stop-color="#00bc00"/><stop offset="0.8037" stop-color="#009adb"/><stop offset="0.8052" stop-color="#0098dd"/><stop offset="0.8258" stop-color="#008add"/><stop offset="0.8258" stop-color="#002fdd"/><stop offset="0.8539" stop-color="#0009dd"/><stop offset="0.8539" stop-color="#00bc00"/><stop offset="0.8652" stop-color="#00bc00"/><stop offset="0.8652" stop-color="#0000d9"/><stop offset="0.8970" stop-color="#0000c9"/><stop offset="0.8970" stop-color="#870098"/><stop offset="0.9007" stop-color="#850096"/><stop offset="0.9139" stop-color="#7d008e"/><stop offset="0.9232" stop-color="#700080"/><stop offset="0.9251" stop-color="#670075"/><stop offset="0.9438" stop-color="#2f0035"/><stop offset="0.9551" stop-color="#130015"/><stop offset="0.9663" stop-color="#000000"/><stop offset="1.0000" stop-color="#000000"/></linearGradient>
<linearGradient id="g13" x1="0" y1="0" x2="1" y2="0"><stop offset="0.0000" stop-color="#f7dd00"/><stop offset="0.0034" stop-color="#f7dd00"/><stop offset="0.0034" stop-color="#820093"/><stop offset="0.0150" stop-color="#820093"/><stop offset="0.0183" stop-color="#700080"/><stop offset="0.0187" stop-color="#670075"/><stop offset="0.1667" stop-color="#670075"/><stop offset="0.1671" stop-color="#700080"/><stop offset="0.1712" stop-color="#820093"/><stop offset="0.1768" stop-color="#850096"/><stop offset="0.1770" stop-color="#870098"/><stop offset="0.1779" stop-color="#0300aa"/><stop offset="0.1891" stop-color="#0000dd"/><stop offset="0.1926" stop-color="#0078dd"/><stop offset="0.1948" stop-color="#008add"/><stop offset="0.1957" stop-color="#0098dd"/><stop offset="0.1980" stop-color="#00aaab"/><stop offset="0.2004" stop-color="#00aa88"/><stop offset="0.2027" stop-color="#009a00"/><stop offset="0.2041" stop-color="#00ac00"/><stop offset="0.2086" stop-color="#00bc00"/><stop offset="0.2199" stop-color="#00dc00"/><stop offset="0.2266" stop-color="#00f200"/><stop offset="0.2298" stop-color="#00ff00"/><stop offset="0.2378" stop-color="#bcff00"/><stop offset="0.2528" stop-color="#efed00"/><stop offset="0.2828" stop-color="#f8da00"/><stop offset="0.3277" stop-color="#fcd200"/><stop offset="0.3446" stop-color="#ffc900"/><stop offset="0.3933" stop-color="#ffc900"/><stop offset="0.4176" stop-color="#ffcd00"/><stop offset="0.4176" stop-color="#ffb100"/><stop offset="0.4210" stop-color="#ffb100"/><stop offset="0.4210" stop-color="#ffcd00"/><stop offset="0.4307" stop-color="#ffcd00"/><stop offset="0.4682" stop-color="#fcd200"/><stop offset="0.5019" stop-color="#efed00"/><stop offset="0.5599" stop-color="#bcff00"/><stop offset="0.5805" stop-color="#00ff00"/><stop offset="0.6067" stop-color="#00dc00"/><stop offset="0.6442" stop-color="#00bc00"/><stop offset="0.6629" stop-color="#009a00"/><stop offset="0.6816" stop-color="#00a353"/><stop offset="0.6936" stop-color="#00aa88"/><stop offset="0.7116" stop-color="#00aa9d"/><stop offset="0.7416" stop-color="#00aaab"/><stop offset="0.7438" stop-color="#00aaab"/><stop offset="0.7438" stop-color="#00bc00"/><stop offset="0.7476" stop-color="#00bc00"/><stop offset="0.7476" stop-color="#00a8af"/><stop offset="0.7865" stop-color="#00a3bf"/><stop offset="0.7918" stop-color="#00a0c7"/><stop offset="0.7918" stop-color="#00bc00"/><stop offset="0.7948" stop-color="#00bc00"/><stop offset="0.7948" stop-color="#009fcb"/><stop offset="0.8007" stop-color="#009bd7"/><stop offset="0.8007" stop-color="#00bc00"/><stop offset="0.8037" stop-color="#00bc00"/><stop offset="0.8037" stop-color="#009adb"/><stop offset="0.8052" stop-color="#0098dd"/><stop offset="0.8258" stop-color="#008add"/><stop offset="0.8258" stop-color="#002fdd"/><stop offset="0.8614" stop-color="#0000dd"/><stop offset="0.8970" stop-color="#0000c9"/><stop offset="0.8970" stop-color="#870098"/><stop offset="0.9007" stop-color="#850096"/><stop offset="0.9139" stop-color="#7d008e"/><stop offset="0.9232" stop-color="#700080"/><stop offset="0.9251" stop-color="#670075"/><stop offset="0.9438" stop-color="#2f0035"/><stop offset="0.9551" stop-color="#130015"/><stop offset="0.9663" stop-color="#000000"/><stop offset="1.0000" stop-color="#000000"/></linearGradient>
<linearGradient id="g14" x1="0" y1="0" x2="1" y2="0"><stop offset="0.0000" stop-color="#f7dd00"/><stop offset="0.0034" stop-color="#f7dd00"/><stop offset="0.0034" stop-color="#850096"/><stop offset="0.8801" stop-color="#850096"/><stop offset="0.8989" stop-color="#850096"/><stop offset="0.9139" stop-color="#7d008e"/><stop offset="0.9232" stop-color="#700080"/><stop offset="0.9251" stop-color="#670075"/><stop offset="0.9438" stop-color="#2f0035"/><stop offset="0.9551" stop-color="#130015"/><stop offset="0.9663" stop-color="#000000"/><stop offset="1.0000" stop-color="#000000"/></linearGradient>
<linearGradient id="g15" x1="0" y1="0" x2="1" y2="0"><stop offset="0.0000" stop-color="#f7dd00"/><stop offset="0.0034" stop-color="#f7dd00"/><stop offset="0.0034" stop-color="#820093"/><stop offset="0.0225" stop-color="#820093"/><stop offset="0.0449" stop-color="#79008a"/><stop offset="0.0599" stop-color="#700080"/><stop offset="0.0674" stop-color="#670075"/><stop offset="0.1498" stop-color="#670075"/><stop offset="0.1558" stop-color="#700080"/><stop offset="0.1723" stop-color="#7a008b"/><stop offset="0.1835" stop-color="#820093"/><stop offset="0.2022" stop-color="#850096"/><stop offset="0.2024" stop-color="#870098"/><stop offset="0.2034" stop-color="#0300aa"/><stop offset="0.2071" stop-color="#0000cd"/><stop offset="0.2146" stop-color="#0000dd"/><stop offset="0.2221" stop-color="#0078dd"/><stop offset="0.2315" stop-color="#0098dd"/><stop offset="0.2427" stop-color="#00aaab"/><stop offset="0.2633" stop-color="#00aa90"/><stop offset="0.2828" stop-color="#00aa88"/><stop offset="0.2959" stop-color="#009a00"/><stop offset="0.2996" stop-color="#009c00"/><stop offset="0.3258" stop-color="#00a700"/><stop offset="0.3708" stop-color="#00b200"/><stop offset="0.3750" stop-color="#00bc00"/><stop offset="0.3820" stop-color="#00cc00"/><stop offset="0.4195" stop-color="#00dc00"/><stop offset="0.4682" stop-color="#00ea00"/><stop offset="0.5169" stop-color="#00f200"/><stop offset="0.5506" stop-color="#00e700"/><stop offset="0.5581" stop-color="#00dc00"/><stop offset="0.5730" stop-color="#00ca00"/><stop offset="0.5830" stop-color="#00bc00"/><stop offset="0.5880" stop-color="#00b400"/><stop offset="0.6067" stop-color="#009f00"/><stop offset="0.6124" stop-color="#009a00"/><stop offset="0.6217" stop-color="#00aa88"/><stop offset="0.6367" stop-color="#00aaab"/><stop offset="0.6592" stop-color="#0098dd"/><stop offset="0.6816" stop-color="#0085dd"/><stop offset="0.6900" stop-color="#0078dd"/><stop offset="0.7004" stop-color="#0038dd"/><stop offset="0.7169" stop-color="#0000dd"/><stop offset="0.7169" stop-color="#00bc00"/><stop offset="0.7236" stop-color="#00bc00"/><stop offset="0.7236" stop-color="#0000d9"/><stop offset="0.7416" stop-color="#0000c9"/><stop offset="0.7438" stop-color="#0000c9"/><stop offset="0.7438" stop-color="#00bc00"/><stop offset="0.7528" stop-color="#00bc00"/><stop offset="0.7528" stop-color="#00aaa3"/><stop offset="0.7577" stop-color="#00aaa3"/><stop offset="0.7577" stop-color="#00bc00"/><stop offset="0.7734" stop-color="#00bc00"/><stop offset="0.7734" stop-color="#00aa95"/><stop offset="0.7846" stop-color="#00aa95"/><stop offset="0.7846" stop-color="#00bc00"/><stop offset="0.7925" stop-color="#00bc00"/><stop offset="0.7925" stop-color="#00a353"/><stop offset="0.7955" stop-color="#00a353"/><stop offset="0.7955" stop-color="#00ca00"/><stop offset="0.8090" stop-color="#00ca00"/><stop offset="0.8090" stop-color="#00aaa3"/><stop offset="0.8258" stop-color="#00aaa3"/><stop offset="0.8258" stop-color="#2300a6"/><stop offset="0.8464" stop-color="#4300a2"/><stop offset="0.8727" stop-color="#870098"/><stop offset="0.8989" stop-color="#850096"/><stop offset="0.9139" stop-color="#7d008e"/><stop offset="0.9232" stop-color="#700080"/><stop offset="0.9251" stop-color="#670075"/><stop offset="0.9438" stop-color="#2f0035"/><stop offset="0.9551" stop-color="#130015"/><stop offset="0.9663" stop-color="#000000"/><stop offset="1.0000" stop-color="#000000"/></linearGradient>
<linearGradient id="g16" x1="0" y1="0" x2="1" y2="0"><stop offset="0.0000" stop-color="#f7dd00"/><stop offset="0.0034" stop-color="#f7dd00"/><stop offset="0.0034" stop-color="#820093"/><stop offset="0.0225" stop-color="#820093"/><stop offset="0.0449" stop-color="#79008a"/><stop offset="0.0599" stop-color="#700080"/><stop offset="0.0674" stop-color="#670075"/><stop offset="0.1498" stop-color="#670075"/><stop offset="0.1558" stop-color="#700080"/><stop offset="0.1723" stop-color="#7a008b"/><stop offset="0.1835" stop-color="#820093"/><stop offset="0.2022" stop-color="#850096"/><stop offset="0.2024" stop-color="#870098"/><stop offset="0.2034" stop-color="#0300aa"/><stop offset="0.2071" stop-color="#0000cd"/><stop offset="0.2146" stop-color="#0000dd"/><stop offset="0.2221" stop-color="#0078dd"/><stop offset="0.2315" stop-color="#0098dd"/><stop offset="0.2427" stop-color="#00aaab"/><stop offset="0.2633" stop-color="#00aa90"/><stop offset="0.2828" stop-color="#00aa88"/><stop offset="0.2959" stop-color="#009a00"/><stop offset="0.2996" stop-color="#009c00"/><stop offset="0.3258" stop-color="#00a700"/><stop offset="0.3708" stop-color="#00b200"/><stop offset="0.3750" stop-color="#00bc00"/><stop offset="0.3820" stop-color="#00cc00"/><stop offset="0.4195" stop-color="#00dc00"/><stop offset="0.4682" stop-color="#00ea00"/><stop offset="0.5169" stop-color="#00f200"/><stop offset="0.5506" stop-color="#00e700"/><stop offset="0.5581" stop-color="#00dc00"/><stop offset="0.5730" stop-color="#00ca00"/><stop offset="0.5830" stop-color="#00bc00"/><stop offset="0.5880" stop-color="#00b400"/><stop offset="0.6067" stop-color="#009f00"/><stop offset="0.6124" stop-color="#009a00"/><stop offset="0.6217" stop-color="#00aa88"/><stop offset="0.6367" stop-color="#00aaab"/><stop offset="0.6592" stop-color="#0098dd"/><stop offset="0.6816" stop-color="#0085dd"/><stop offset="0.6900" stop-color="#0078dd"/><stop offset="0.7004" stop-color="#0038dd"/><stop offset="0.7191" stop-color="#0000dd"/><stop offset="0.7416" stop-color="#0000c9"/><stop offset="0.7438" stop-color="#0000c9"/><stop offset="0.7438" stop-color="#00bc00"/><stop offset="0.7528" stop-color="#00bc00"/><stop offset="0.7528" stop-color="#00aaa3"/><stop offset="0.7577" stop-color="#00aaa3"/><stop offset="0.7577" stop-color="#00bc00"/><stop offset="0.7734" stop-color="#00bc00"/><stop offset="0.7734" stop-color="#00aa95"/><stop offset="0.7846" stop-color="#00aa95"/><stop offset="0.7846" stop-color="#00bc00"/><stop offset="0.7925" stop-color="#00bc00"/><stop offset="0.7925" stop-color="#00a353"/><stop offset="0.7955" stop-color="#00a353"/><stop offset="0.7955" stop-color="#00ca00"/><stop offset="0.8090" stop-color="#00ca00"/><stop offset="0.8090" stop-color="#00aaa3"/><stop offset="0.8258" stop-color="#00aaa3"/><stop offset="0.8258" stop-color="#2300a6"/><stop offset="0.8464" stop-color="#4300a2"/><stop offset="0.8727" stop-color="#870098"/><stop offset="0.8989" stop-color="#850096"/><stop offset="0.9139" stop-color="#7d008e"/><stop offset="0.9232" stop-color="#700080"/><stop offset="0.9251" stop-color="#670075"/><stop offset="0.9438" stop-color="#2f0035"/><stop offset="0.9551" stop-color="#130015"/><stop offset="0.9663" stop-color="#000000"/><stop offset="1.0000" stop-color="#000000"/></linearGradient>
<linearGradient id="g17" x1="0" y1="0" x2="1" y2="0"><stop offset="0.0000" stop-color="#f7dd00"/><stop offset="0.0034" stop-color="#f7dd00"/><stop offset="0.0034" stop-color="#820093"/><stop offset="0.0225" stop-color="#820093"/><stop offset="0.0449" stop-color="#79008a"/><stop offset="0.0599" stop-color="#700080"/><stop offset="0.0674" stop-color="#670075"/><stop offset="0.1498" stop-color="#670075"/><stop offset="0.1558" stop-color="#700080"/><stop offset="0.1723" stop-color="#7a008b"/><stop offset="0.1835" stop-color="#820093"/><stop offset="0.2022" stop-color="#850096"/><stop offset="0.2024" stop-color="#870098"/><stop offset="0.2034" stop-color="#0300aa"/><stop offset="0.2071" stop-color="#0000cd"/><stop offset="0.2146" stop-color="#0000dd"/><stop offset="0.2221" stop-color="#0078dd"/><stop offset="0.2315" stop-color="#0098dd"/><stop offset="0.2427" stop-color="#00aaab"/><stop offset="0.2633" stop-color="#00aa90"/><stop offset="0.2828" stop-color="#00aa88"/><stop offset="0.2959" stop-color="#009a00"/><stop offset="0.2996" stop-color="#00a200"/><stop offset="0.3258" stop-color="#00b200"/><stop offset="0.3745" stop-color="#00bc00"/><stop offset="0.3895" stop-color="#00cc00"/><stop offset="0.4207" stop-color="#00dc00"/><stop offset="0.4270" stop-color="#00e200"/><stop offset="0.4719" stop-color="#00ef00"/><stop offset="0.5169" stop-color="#00f400"/><stop offset="0.5506" stop-color="#00ea00"/><stop offset="0.5600" stop-color="#00dc00"/><stop offset="0.5730" stop-color="#00cc00"/><stop offset="0.5855" stop-color="#00bc00"/><stop offset="0.5880" stop-color="#00b700"/><stop offset="0.6067" stop-color="#00a400"/><stop offset="0.6124" stop-color="#009a00"/><stop offset="0.6217" stop-color="#00aa88"/><stop offset="0.6367" stop-color="#00aaab"/><stop offset="0.6592" stop-color="#0098dd"/><stop offset="0.6816" stop-color="#0085dd"/><stop offset="0.6900" stop-color="#0078dd"/><stop offset="0.7004" stop-color="#0038dd"/><stop offset="0.7191" stop-color="#0000dd"/><stop offset="0.7416" stop-color="#0000c9"/><stop offset="0.7438" stop-color="#0000c9"/><stop offset="0.7438" stop-color="#00bc00"/><stop offset="0.7528" stop-color="#00bc00"/><stop offset="0.7528" stop-color="#00aaa3"/><stop offset="0.7577" stop-color="#00aaa3"/><stop offset="0.7577" stop-color="#00bc00"/><stop offset="0.7734" stop-color="#00bc00"/><stop offset="0.7734" stop-color="#00aa95"/><stop offset="0.7846" stop-color="#00aa95"/><stop offset="0.7846" stop-color="#00bc00"/><stop offset="0.7925" stop-color="#00bc00"/><stop offset="0.7925" stop-color="#00a353"/><stop offset="0.7955" stop-color="#00a353"/><stop offset="0.7955" stop-color="#00ca00"/><stop offset="0.8090" stop-color="#00ca00"/><stop offset="0.8090" stop-color="#00aaa3"/><stop offset="0.8258" stop-color="#00aaa3"/><stop offset="0.8258" stop-color="#2300a6"/><stop offset="0.8464" stop-color="#4300a2"/><stop offset="0.8727" stop-color="#870098"/><stop offset="0.8989" stop-color="#850096"/><stop offset="0.9139" stop-color="#7d008e"/><stop offset="0.9232" stop-color="#700080"/><stop offset="0.9251" stop-color="#670075"/><stop offset="0.9438" stop-color="#2f0035"/><stop offset="0.9551" stop-color="#130015"/><stop offset="0.9663" stop-color="#000000"/><stop offset="1.0000" stop-color="#000000"/></linearGradient>
<linearGradient id="g18" x1="0" y1="0" x2="1" y2="0"><stop offset="0.0000" stop-color="#f7dd00"/><stop offset="0.0034" stop-color="#f7dd00"/><stop offset="0.0034" stop-color="#820093"/><stop offset="0.0225" stop-color="#820093"/><stop offset="0.0449" stop-color="#79008a"/><stop offset="0.0599" stop-color="#700080"/><stop offset="0.0674" stop-color="#670075"/><stop offset="0.1498" stop-color="#670075"/><stop offset="0.1558" stop-color="#700080"/><stop offset="0.1723" stop-color="#7a008b"/><stop offset="0.1835" stop-color="#820093"/><stop offset="0.2022" stop-color="#850096"/><stop offset="0.2024" stop-color="#870098"/><stop offset="0.2034" stop-color="#0300aa"/><stop offset="0.2071" stop-color="#0000cd"/><stop offset="0.2146" stop-color="#0000dd"/><stop offset="0.2221" stop-color="#0078dd"/><stop offset="0.2315" stop-color="#0098dd"/><stop offset="0.2427" stop-color="#00aaab"/><stop offset="0.2633" stop-color="#00aa90"/><stop offset="0.2828" stop-color="#00aa88"/><stop offset="0.2959" stop-color="#009a00"/><stop offset="0.2996" stop-color="#00a700"/><stop offset="0.3258" stop-color="#00bc00"/><stop offset="0.3820" stop-color="#00ca00"/><stop offset="0.4242" stop-color="#00dc00"/><stop offset="0.4382" stop-color="#00e400"/><stop offset="0.4869" stop-color="#00f400"/><stop offset="0.5169" stop-color="#00fa00"/><stop offset="0.5506" stop-color="#00ea00"/><stop offset="0.5618" stop-color="#00dc00"/><stop offset="0.5730" stop-color="#00cf00"/><stop offset="0.5880" stop-color="#00bc00"/><stop offset="0.6067" stop-color="#00a700"/><stop offset="0.6124" stop-color="#009a00"/><stop offset="0.6217" stop-color="#00aa88"/><stop offset="0.6367" stop-color="#00aaab"/><stop offset="0.6592" stop-color="#0098dd"/><stop offset="0.6816" stop-color="#0085dd"/><stop offset="0.6900" stop-color="#0078dd"/><stop offset="0.7004" stop-color="#0038dd"/><stop offset="0.7191" stop-color="#0000dd"/><stop offset="0.7416" stop-color="#0000c9"/><stop offset="0.7438" stop-color="#0000c9"/><stop offset="0.7438" stop-color="#00bc00"/><stop offset="0.7528" stop-color="#00bc00"/><stop offset="0.7528" stop-color="#00aa88"/><stop offset="0.7577" stop-color="#00aa88"/><stop offset="0.7577" stop-color="#00bc00"/><stop offset="0.7734" stop-color="#00bc00"/><stop offset="0.7734" stop-color="#009c00"/><stop offset="0.7846" stop-color="#009c00"/><stop offset="0.7846" stop-color="#00bc00"/><stop offset="0.7925" stop-color="#00bc00"/><stop offset="0.7925" stop-color="#00a700"/><stop offset="0.7955" stop-color="#00a700"/><stop offset="0.7955" stop-color="#00ea00"/><stop offset="0.8052" stop-color="#00ea00"/><stop offset="0.8052" stop-color="#00bc00"/><stop offset="0.8202" stop-color="#00bc00"/><stop offset="0.8202" stop-color="#00aa95"/><stop offset="0.8258" stop-color="#00aa95"/><stop offset="0.8258" stop-color="#2300a6"/><stop offset="0.8464" stop-color="#4300a2"/><stop offset="0.8727" stop-color="#870098"/><stop offset="0.8989" stop-color="#850096"/><stop offset="0.9139" stop-color="#7d008e"/><stop offset="0.9232" stop-color="#700080"/><stop offset="0.9251" stop-color="#670075"/><stop offset="0.9438" stop-color="#2f0035"/><stop offset="0.9551" stop-color="#130015"/><stop offset="0.9663" stop-color="#000000"/><stop offset="1.0000" stop-color="#000000"/></linearGradient>
<linearGradient id="g19" x1="0" y1="0" x2="1" y2="0"><stop offset="0.0000" stop-color="#e4f100"/><stop offset="0.0034" stop-color="#e4f100"/><stop offset="0.0034" stop-color="#820093"/><stop offset="0.0225" stop-color="#820093"/><stop offset="0.0449" stop-color="#79008a"/><stop offset="0.0599" stop-color="#700080"/><stop offset="0.0674" stop-color="#670075"/><stop offset="0.1498" stop-color="#670075"/><stop offset="0.1558" stop-color="#700080"/><stop offset="0.1723" stop-color="#7a008b"/><stop offset="0.1835" stop-color="#820093"/><stop offset="0.2022" stop-color="#850096"/><stop offset="0.2024" stop-color="#870098"/><stop offset="0.2034" stop-color="#0300aa"/><stop offset="0.2071" stop-color="#0000cd"/><stop offset="0.2146" stop-color="#0000dd"/><stop offset="0.2221" stop-color="#0078dd"/><stop offset="0.2315" stop-color="#0098dd"/><stop offset="0.2427" stop-color="#00aaab"/><stop offset="0.2633" stop-color="#00aa90"/><stop offset="0.2828" stop-color="#00aa88"/><stop offset="0.2959" stop-color="#009a00"/><stop offset="0.2996" stop-color="#00a700"/><stop offset="0.3258" stop-color="#00bc00"/><stop offset="0.3820" stop-color="#00ca00"/><stop offset="0.4242" stop-color="#00dc00"/><stop offset="0.4382" stop-color="#00e400"/><stop offset="0.4869" stop-color="#00f400"/><stop offset="0.5169" stop-color="#00fa00"/><stop offset="0.5506" stop-color="#00ea00"/><stop offset="0.5618" stop-color="#00dc00"/><stop offset="0.5730" stop-color="#00cf00"/><stop offset="0.5880" stop-color="#00bc00"/><stop offset="0.6067" stop-color="#00a700"/><stop offset="0.6124" stop-color="#009a00"/><stop offset="0.6217" stop-color="#00aa88"/><stop offset="0.6367" stop-color="#00aaab"/><stop offset="0.6592" stop-color="#0098dd"/><stop offset="0.6816" stop-color="#0085dd"/><stop offset="0.6900" stop-color="#0078dd"/><stop offset="0.7004" stop-color="#0038dd"/><stop offset="0.7191" stop-color="#0000dd"/><stop offset="0.7416" stop-color="#0000c9"/><stop offset="0.7438" stop-color="#0000c9"/><stop offset="0.7438" stop-color="#00bc00"/><stop offset="0.7528" stop-color="#00bc00"/><stop offset="0.7528" stop-color="#00aa88"/><stop offset="0.7577" stop-color="#00aa88"/><stop offset="0.7577" stop-color="#00bc00"/><stop offset="0.7734" stop-color="#00bc00"/><stop offset="0.7734" stop-color="#009c00"/><stop offset="0.7846" stop-color="#009c00"/><stop offset="0.7846" stop-color="#00bc00"/><stop offset="0.7925" stop-color="#00bc00"/><stop offset="0.7925" stop-color="#00a700"/><stop offset="0.7955" stop-color="#00a700"/><stop offset="0.7955" stop-color="#00ea00"/><stop offset="0.8052" stop-color="#00ea00"/><stop offset="0.8052" stop-color="#00bc00"/><stop offset="0.8202" stop-color="#00bc00"/><stop offset="0.8202" stop-color="#00aa95"/><stop offset="0.8258" stop-color="#00aa95"/><stop offset="0.8258" stop-color="#2300a6"/><stop offset="0.8464" stop-color="#4300a2"/><stop offset="0.8727" stop-color="#870098"/><stop offset="0.8989" stop-color="#850096"/><stop offset="0.9139" stop-color="#7d008e"/><stop offset="0.9232" stop-color="#700080"/><stop offset="0.9251" stop-color="#670075"/><stop offset="0.9438" stop-color="#2f0035"/><stop offset="0.9551" stop-color="#130015"/><stop offset="0.9663" stop-color="#000000"/><stop offset="1.0000" stop-color="#000000"/></linearGradient>
<linearGradient id="g20" x1="0" y1="0" x2="1" y2="0"><stop offset="0.0000" stop-color="#e4f100"/><stop offset="0.0034" stop-color="#e4f100"/><stop offset="0.0034" stop-color="#820093"/><stop offset="0.0225" stop-color="#820093"/><stop offset="0.0449" stop-color="#79008a"/><stop offset="0.0599" stop-color="#700080"/><stop offset="0.0674" stop-color="#670075"/><stop offset="0.1498" stop-color="#670075"/><stop offset="0.1558" stop-color="#700080"/><stop offset="0.1723" stop-color="#7a008b"/><stop offset="0.1835" stop-color="#820093"/><stop offset="0.2022" stop-color="#850096"/><stop offset="0.2024" stop-color="#870098"/><stop offset="0.2034" stop-color="#0300aa"/><stop offset="0.2071" stop-color="#0000cd"/><stop offset="0.2146" stop-color="#0000dd"/><stop offset="0.2221" stop-color="#0078dd"/><stop offset="0.2315" stop-color="#0098dd"/><stop offset="0.2427" stop-color="#00aaab"/><stop offset="0.2633" stop-color="#00aa90"/><stop offset="0.2828" stop-color="#00aa88"/><stop offset="0.2959" stop-color="#009a00"/><stop offset="0.2996" stop-color="#00a700"/><stop offset="0.3258" stop-color="#00bc00"/><stop offset="0.3820" stop-color="#00ca00"/><stop offset="0.4242" stop-color="#00dc00"/><stop offset="0.4382" stop-color="#00e400"/><stop offset="0.4869" stop-color="#00f400"/><stop offset="0.5169" stop-color="#00fa00"/><stop offset="0.5506" stop-color="#00ea00"/><stop offset="0.5618" stop-color="#00dc00"/><stop offset="0.5730" stop-color="#00cf00"/><stop offset="0.5880" stop-color="#00bc00"/><stop offset="0.6067" stop-color="#00a700"/><stop offset="0.6124" stop-color="#009a00"/><stop offset="0.6217" stop-color="#00aa88"/><stop offset="0.6367" stop-color="#00aaab"/><stop offset="0.6592" stop-color="#0098dd"/><stop offset="0.6816" stop-color="#0085dd"/><stop offset="0.6900" stop-color="#0078dd"/><stop offset="0.7004" stop-color="#0038dd"/><stop offset="0.7191" stop-color="#0000dd"/><stop offset="0.7416" stop-color="#0000c9"/><stop offset="0.7438" stop-color="#0000c9"/><stop offset="0.7438" stop-color="#00bc00"/><stop offset="0.7528" stop-color="#00bc00"/><stop offset="0.7528" stop-color="#00aa88"/><stop offset="0.7577" stop-color="#00aa88"/><stop offset="0.7577" stop-color="#00bc00"/><stop offset="0.7734" stop-color="#00bc00"/><stop offset="0.7734" stop-color="#009c00"/><stop offset="0.7846" stop-color="#009c00"/><stop offset="0.7846" stop-color="#00bc00"/><stop offset="0.7925" stop-color="#00bc00"/><stop offset="0.7925" stop-color="#00a700"/><stop offset="0.7955" stop-color="#00a700"/><stop offset="0.7955" stop-color="#93ff00"/><stop offset="0.8000" stop-color="#93ff00"/><stop offset="0.8000" stop-color="#00ea00"/><stop offset="0.8052" stop-color="#00ea00"/><stop offset="0.8052" stop-color="#00bc00"/><stop offset="0.8202" stop-color="#00bc00"/><stop offset="0.8202" stop-color="#00aa95"/><stop offset="0.8258" stop-color="#00aa95"/><stop offset="0.8258" stop-color="#2300a6"/><stop offset="0.8464" stop-color="#4300a2"/><stop offset="0.8727" stop-color="#870098"/><stop offset="0.8989" stop-color="#850096"/><stop offset="0.9139" stop-color="#7d008e"/><stop offset="0.9232" stop-color="#700080"/><stop offset="0.9251" stop-color="#670075"/><stop offset="0.9438" stop-color="#2f0035"/><stop offset="0.9551" stop-color="#130015"/><stop offset="0.9663" stop-color="#000000"/><stop offset="1.0000" stop-color="#000000"/></linearGradient>
<linearGradient id="g21" x1="0" y1="0" x2="1" y2="0"><stop offset="0.0000" stop-color="#e4f100"/><stop offset="0.0034" stop-color="#e4f100"/><stop offset="0.0034" stop-color="#820093"/><stop offset="0.0749" stop-color="#820093"/><stop offset="0.2247" stop-color="#850096"/><stop offset="0.2250" stop-color="#870098"/><stop offset="0.2266" stop-color="#0300aa"/><stop offset="0.2397" stop-color="#0000c9"/><stop offset="0.2472" stop-color="#0000dd"/><stop offset="0.2547" stop-color="#002fdd"/><stop offset="0.2687" stop-color="#0078dd"/><stop offset="0.2734" stop-color="#007ddd"/><stop offset="0.3184" stop-color="#008ddd"/><stop offset="0.3633" stop-color="#0098dd"/><stop offset="0.3895" stop-color="#00aaab"/><stop offset="0.4195" stop-color="#00aa88"/><stop offset="0.4494" stop-color="#009d1d"/><stop offset="0.4694" stop-color="#009a00"/><stop offset="0.4794" stop-color="#009c00"/><stop offset="0.5281" stop-color="#00a400"/><stop offset="0.5618" stop-color="#009a00"/><stop offset="0.5843" stop-color="#00aa88"/><stop offset="0.6067" stop-color="#00aaab"/><stop offset="0.6367" stop-color="#0098dd"/><stop offset="0.6592" stop-color="#0078dd"/><stop offset="0.6854" stop-color="#0013dd"/><stop offset="0.6941" stop-color="#0000dd"/><stop offset="0.7116" stop-color="#0000c9"/><stop offset="0.7434" stop-color="#0000bd"/><stop offset="0.7438" stop-color="#0000bd"/><stop offset="0.7438" stop-color="#00bc00"/><stop offset="0.7483" stop-color="#00bc00"/><stop offset="0.7483" stop-color="#0098dd"/><stop offset="0.7603" stop-color="#0098dd"/><stop offset="0.7603" stop-color="#00ac00"/><stop offset="0.7640" stop-color="#00ac00"/><stop offset="0.7640" stop-color="#00a3bf"/><stop offset="0.7753" stop-color="#00a3bf"/><stop offset="0.7753" stop-color="#00bc00"/><stop offset="0.7790" stop-color="#00bc00"/><stop offset="0.7790" stop-color="#00a7b3"/><stop offset="0.7921" stop-color="#00a7b3"/><stop offset="0.7921" stop-color="#00bc00"/><stop offset="0.8015" stop-color="#00bc00"/><stop offset="0.8015" stop-color="#00aaa3"/><stop offset="0.8127" stop-color="#00aaa3"/><stop offset="0.8127" stop-color="#00ac00"/><stop offset="0.8165" stop-color="#00ac00"/><stop offset="0.8165" stop-color="#00a3bf"/><stop offset="0.8258" stop-color="#00a3bf"/><stop offset="0.8258" stop-color="#870098"/><stop offset="0.8989" stop-color="#850096"/><stop offset="0.9139" stop-color="#7d008e"/><stop offset="0.9232" stop-color="#700080"/><stop offset="0.9251" stop-color="#670075"/><stop offset="0.9438" stop-color="#2f0035"/><stop offset="0.9551" stop-color="#130015"/><stop offset="0.9663" stop-color="#000000"/><stop offset="1.0000" stop-color="#000000"/></linearGradient>
<linearGradient id="g22" x1="0" y1="0" x2="1" y2="0"><stop offset="0.0000" stop-color="#e4f100"/><stop offset="0.0034" stop-color="#e4f100"/><stop offset="0.0034" stop-color="#820093"/><stop offset="0.0412" stop-color="#820093"/><stop offset="0.0446" stop-color="#700080"/><stop offset="0.0449" stop-color="#670075"/><stop offset="0.1648" stop-color="#670075"/><stop offset="0.1656" stop-color="#700080"/><stop offset="0.1723" stop-color="#820093"/><stop offset="0.2341" stop-color="#850096"/><stop offset="0.2344" stop-color="#870098"/><stop offset="0.2360" stop-color="#0300aa"/><stop offset="0.2547" stop-color="#0000c9"/><stop offset="0.2659" stop-color="#0000dd"/><stop offset="0.2772" stop-color="#002fdd"/><stop offset="0.2996" stop-color="#0078dd"/><stop offset="0.3071" stop-color="#007ddd"/><stop offset="0.3446" stop-color="#008ddd"/><stop offset="0.3839" stop-color="#0098dd"/><stop offset="0.3839" stop-color="#f10000"/><stop offset="0.3888" stop-color="#f10000"/><stop offset="0.3888" stop-color="#0098dd"/><stop offset="0.3895" stop-color="#0098dd"/><stop offset="0.4195" stop-color="#009fcb"/><stop offset="0.4682" stop-color="#00aaab"/><stop offset="0.4981" stop-color="#00aaa3"/><stop offset="0.5225" stop-color="#00aaab"/><stop offset="0.5468" stop-color="#00a7b3"/><stop offset="0.5993" stop-color="#0098dd"/><stop offset="0.6292" stop-color="#007ddd"/><stop offset="0.6367" stop-color="#0078dd"/><stop offset="0.6592" stop-color="#002fdd"/><stop offset="0.6792" stop-color="#0000dd"/><stop offset="0.6891" stop-color="#0000d1"/><stop offset="0.7434" stop-color="#0000c1"/><stop offset="0.7438" stop-color="#0000c1"/><stop offset="0.7438" stop-color="#00bc00"/><stop offset="0.7483" stop-color="#00bc00"/><stop offset="0.7483" stop-color="#00a3bf"/><stop offset="0.7603" stop-color="#00a3bf"/><stop offset="0.7603" stop-color="#00bc00"/><stop offset="0.7640" stop-color="#00bc00"/><stop offset="0.7640" stop-color="#00aaa3"/><stop offset="0.7753" stop-color="#00aaa3"/><stop offset="0.7753" stop-color="#00bc00"/><stop offset="0.7790" stop-color="#00bc00"/><stop offset="0.7790" stop-color="#00aaa3"/><stop offset="0.7921" stop-color="#00aaa3"/><stop offset="0.7921" stop-color="#00bc00"/><stop offset="0.8015" stop-color="#00bc00"/><stop offset="0.8015" stop-color="#00aaa3"/><stop offset="0.8127" stop-color="#00aaa3"/><stop offset="0.8127" stop-color="#00ac00"/><stop offset="0.8165" stop-color="#00ac00"/><stop offset="0.8165" stop-color="#00a3bf"/><stop offset="0.8258" stop-color="#00a3bf"/><stop offset="0.8258" stop-color="#870098"/><stop offset="0.8989" stop-color="#850096"/><stop offset="0.9139" stop-color="#7d008e"/><stop offset="0.9232" stop-color="#700080"/><stop offset="0.9251" stop-color="#670075"/><stop offset="0.9438" stop-color="#2f0035"/><stop offset="0.9551" stop-color="#130015"/><stop offset="0.9663" stop-color="#000000"/><stop offset="1.0000" stop-color="#000000"/></linearGradient>
<linearGradient id="g23" x1="0" y1="0" x2="1" y2="0"><stop offset="0.0000" stop-color="#e4f100"/><stop offset="0.0034" stop-color="#e4f100"/><stop offset="0.0034" stop-color="#850096"/><stop offset="0.8801" stop-color="#850096"/><stop offset="0.8989" stop-color="#850096"/><stop offset="0.9139" stop-color="#7d008e"/><stop offset="0.9232" stop-color="#700080"/><stop offset="0.9251" stop-color="#670075"/><stop offset="0.9438" stop-color="#2f0035"/><stop offset="0.9551" stop-color="#130015"/><stop offset="0.9663" stop-color="#000000"/><stop offset="1.0000" stop-color="#000000"/></linearGradient>
<linearGradient id="g24" x1="0" y1="0" x2="1" y2="0"><stop offset="0.0000" stop-color="#e4f100"/><stop offset="0.0034" stop-color="#e4f100"/><stop offset="0.0034" stop-color="#820093"/><stop offset="0.0150" stop-color="#820093"/><stop offset="0.0183" stop-color="#700080"/><stop offset="0.0187" stop-color="#670075"/><stop offset="0.1667" stop-color="#670075"/><stop offset="0.1671" stop-color="#700080"/><stop offset="0.1712" stop-color="#820093"/><stop offset="0.1749" stop-color="#850096"/><stop offset="0.1751" stop-color="#870098"/><stop offset="0.1760" stop-color="#0300aa"/><stop offset="0.1873" stop-color="#0000dd"/><stop offset="0.1908" stop-color="#0078dd"/><stop offset="0.1929" stop-color="#008add"/><stop offset="0.1938" stop-color="#0098dd"/><stop offset="0.1962" stop-color="#00aaab"/><stop offset="0.1985" stop-color="#00aa88"/><stop offset="0.2008" stop-color="#009a00"/><stop offset="0.2022" stop-color="#00ac00"/><stop offset="0.2067" stop-color="#00bc00"/><stop offset="0.2180" stop-color="#00dc00"/><stop offset="0.2247" stop-color="#00f200"/><stop offset="0.2279" stop-color="#00ff00"/><stop offset="0.2360" stop-color="#bcff00"/><stop offset="0.2509" stop-color="#efed00"/><stop offset="0.2809" stop-color="#fbd500"/><stop offset="0.3258" stop-color="#fdcf00"/><stop offset="0.3352" stop-color="#ffc900"/><stop offset="0.3446" stop-color="#ffc500"/><stop offset="0.3933" stop-color="#ffc500"/><stop offset="0.4494" stop-color="#ffc900"/><stop offset="0.4944" stop-color="#f5df00"/><stop offset="0.5131" stop-color="#efed00"/><stop offset="0.5318" stop-color="#dcf400"/><stop offset="0.5599" stop-color="#bcff00"/><stop offset="0.5693" stop-color="#93ff00"/><stop offset="0.5943" stop-color="#00ff00"/><stop offset="0.6067" stop-color="#00f200"/><stop offset="0.6236" stop-color="#00dc00"/><stop offset="0.6517" stop-color="#00bc00"/><stop offset="0.6629" stop-color="#00ac00"/><stop offset="0.6816" stop-color="#009a00"/><stop offset="0.7004" stop-color="#00a353"/><stop offset="0.7109" stop-color="#00aa88"/><stop offset="0.7266" stop-color="#00aa9d"/><stop offset="0.7416" stop-color="#00aaab"/><stop offset="0.7438" stop-color="#00aaab"/><stop offset="0.7438" stop-color="#00bc00"/><stop offset="0.7476" stop-color="#00bc00"/><stop offset="0.7476" stop-color="#00a8af"/><stop offset="0.7865" stop-color="#00a3bf"/><stop offset="0.7918" stop-color="#00a0c7"/><stop offset="0.7918" stop-color="#00bc00"/><stop offset="0.7948" stop-color="#00bc00"/><stop offset="0.7948" stop-color="#009fcb"/><stop offset="0.8007" stop-color="#009bd7"/><stop offset="0.8007" stop-color="#00bc00"/><stop offset="0.8037" stop-color="#00bc00"/><stop offset="0.8037" stop-color="#009adb"/><stop offset="0.8052" stop-color="#0098dd"/><stop offset="0.8127" stop-color="#0092dd"/><stop offset="0.8127" stop-color="#00ac00"/><stop offset="0.8165" stop-color="#00ac00"/><stop offset="0.8165" stop-color="#0092dd"/><stop offset="0.8258" stop-color="#008add"/><stop offset="0.8258" stop-color="#002fdd"/><stop offset="0.8614" stop-color="#0000dd"/><stop offset="0.8970" stop-color="#0000c9"/><stop offset="0.8970" stop-color="#870098"/><stop offset="0.9007" stop-color="#850096"/><stop offset="0.9139" stop-color="#7d008e"/><stop offset="0.9232" stop-color="#700080"/><stop offset="0.9251" stop-color="#670075"/><stop offset="0.9438" stop-color="#2f0035"/><stop offset="0.9551" stop-color="#130015"/><stop offset="0.9663" stop-color="#000000"/><stop offset="1.0000" stop-color="#000000"/></linearGradient>
</defs>
<rect width="640" height="440" fill="#fff"/>
<g shape-rendering="crispEdges">
<rect x="48.0" y="28.00" width="267.0" height="17.00" fill="url(#g0)"/>
<rect x="48.0" y="44.70" width="267.0" height="17.00" fill="url(#g1)"/>
<rect x="48.0" y="61.39" width="267.0" height="17.00" fill="url(#g1)"/>
<rect x="48.0" y="78.09" width="267.0" height="17.00" fill="url(#g2)"/>
<rect x="48.0" y="94.78" width="267.0" height="17.00" fill="url(#g3)"/>
<rect x="48.0" y="111.48" width="267.0" height="17.00" fill="url(#g4)"/>
<rect x="48.0" y="128.17" width="267.0" height="17.00" fill="url(#g5)"/>
<rect x="48.0" y="144.87" width="267.0" height="17.00" fill="url(#g5)"/>
<rect x="48.0" y="161.56" width="267.0" height="17.00" fill="url(#g5)"/>
<rect x="48.0" y="178.26" width="267.0" height="17.00" fill="url(#g6)"/>
<rect x="48.0" y="194.95" width="267.0" height="17.00" fill="url(#g6)"/>
<rect x="48.0" y="211.65" width="267.0" height="17.00" fill="url(#g6)"/>
<rect x="48.0" y="228.35" width="267.0" height="17.00" fill="url(#g6)"/>
<rect x="48.0" y="245.04" width="267.0" height="17.00" fill="url(#g6)"/>
<rect x="48.0" y="261.74" width="267.0" height="17.00" fill="url(#g6)"/>
<rect x="48.0" y="278.43" width="267.0" height="17.00" fill="url(#g7)"/>
<rect x="48.0" y="295.13" width="267.0" height="17.00" fill="url(#g6)"/>
<rect x="48.0" y="311.82" width="267.0" height="17.00" fill="url(#g8)"/>
<rect x="48.0" y="328.52" width="267.0" height="17.00" fill="url(#g9)"/>
<rect x="48.0" y="345.21" width="267.0" height="17.00" fill="url(#g1)"/>
<rect x="48.0" y="361.91" width="267.0" height="17.00" fill="url(#g10)"/>
<rect x="48.0" y="378.60" width="267.0" height="17.00" fill="url(#g11)"/>
</g>
<g shape-rendering="crispEdges">
<rect x="328.2" y="28.00" width="267.0" height="17.00" fill="url(#g12)"/>
<rect x="328.2" y="44.70" width="267.0" height="17.00" fill="url(#g13)"/>
<rect x="328.2" y="61.39" width="267.0" height="17.00" fill="url(#g14)"/>
<rect x="328.2" y="78.09" width="267.0" height="17.00" fill="url(#g15)"/>
<rect x="328.2" y="94.78" width="267.0" height="17.00" fill="url(#g16)"/>
<rect x="328.2" y="111.48" width="267.0" height="17.00" fill="url(#g16)"/>
<rect x="328.2" y="128.17" width="267.0" height="17.00" fill="url(#g17)"/>
<rect x="328.2" y="144.87" width="267.0" height="17.00" fill="url(#g17)"/>
<rect x="328.2" y="161.56" width="267.0" height="17.00" fill="url(#g17)"/>
<rect x="328.2" y="178.26" width="267.0" height="17.00" fill="url(#g18)"/>
<rect x="328.2" y="194.95" width="267.0" height="17.00" fill="url(#g19)"/>
<rect x="328.2" y="211.65" width="267.0" height="17.00" fill="url(#g19)"/>
<rect x="328.2" y="228.35" width="267.0" height="17.00" fill="url(#g19)"/>
<rect x="328.2" y="245.04" width="267.0" height="17.00" fill="url(#g19)"/>
<rect x="328.2" y="261.74" width="267.0" height="17.00" fill="url(#g19)"/>
<rect x="328.2" y="278.43" width="267.0" height="17.00" fill="url(#g20)"/>
<rect x="328.2" y="295.13" width="267.0" height="17.00" fill="url(#g20)"/>
<rect x="328.2" y="311.82" width="267.0" height="17.00" fill="url(#g21)"/>
<rect x="328.2" y="328.52" width="267.0" height="17.00" fill="url(#g22)"/>
<rect x="328.2" y="345.21" width="267.0" height="17.00" fill="url(#g23)"/>
<rect x="328.2" y="361.91" width="267.0" height="17.00" fill="url(#g23)"/>
<rect x="328.2" y="378.60" width="267.0" height="17.00" fill="url(#g24)"/>
</g>
<g clip-path="url(#c0)" fill="#fff" stroke="none" font-family="DejaVu Sans, Liberation Sans, sans-serif" font-size="13.89">
<rect x="70.3" y="282.9" width="5" height="1.2"/>
<text x="79.6" y="288.6">0</text>
<text x="318.3" y="288.6" text-anchor="end">0</text>
<rect x="70.3" y="235.0" width="5" height="1.2"/>
<text x="79.6" y="240.7">5</text>
<text x="318.3" y="240.7" text-anchor="end">5</text>
<rect x="70.3" y="187.0" width="5" height="1.2"/>
<text x="79.6" y="192.7">10</text>
<text x="318.3" y="192.7" text-anchor="end">10</text>
<rect x="70.3" y="139.1" width="5" height="1.2"/>
<text x="79.6" y="144.8">15</text>
<text x="318.3" y="144.8" text-anchor="end">15</text>
<rect x="70.3" y="91.1" width="5" height="1.2"/>
<text x="79.6" y="96.8">20</text>
<text x="318.3" y="96.8" text-anchor="end">20</text>
<rect x="70.3" y="43.1" width="5" height="1.2"/>
<text x="79.6" y="48.9">25</text>
<text x="318.3" y="48.9" text-anchor="end">25</text>
</g>
<g clip-path="url(#c1)" fill="#fff" stroke="none" font-family="DejaVu Sans, Liberation Sans, sans-serif" font-size="13.89">
<rect x="350.5" y="282.9" width="5" height="1.2"/>
<text x="359.8" y="288.6">0</text>
<rect x="350.5" y="235.0" width="5" height="1.2"/>
<text x="359.8" y="240.7">5</text>
<rect x="350.5" y="187.0" width="5" height="1.2"/>
<text x="359.8" y="192.7">10</text>
<rect x="350.5" y="139.1" width="5" height="1.2"/>
<text x="359.8" y="144.8">15</text>
<rect x="350.5" y="91.1" width="5" height="1.2"/>
<text x="359.8" y="96.8">20</text>
<rect x="350.5" y="43.1" width="5" height="1.2"/>
<text x="359.8" y="48.9">25</text>
</g>
<g clip-path="url(#c0)">
<polyline points="48.3,282.0 49.0,82.0" fill="none" stroke="#fff" stroke-width="2.4" stroke-linejoin="round" stroke-linecap="butt" />
<polyline points="47.0,279.3 48.1,279.4 63.8,281.9 82.5,283.0 92.5,280.6 97.5,275.0 101.2,267.5 103.8,256.2 106.1,245.0" fill="none" stroke="#fff" stroke-width="3.6" stroke-linejoin="round" stroke-linecap="butt" />
<polyline points="103.8,256.2 106.1,245.0 109.7,227.5 112.2,208.8 115.0,196.2 117.2,190.0 120.0,183.0" fill="none" stroke="#fff" stroke-width="4.3" stroke-linejoin="round" stroke-linecap="butt" />
<polygon points="107.5,227.5 110.0,208.8 113.0,195.0 118.8,181.2 124.4,171.2 126.9,165.0 128.0,157.0 131.2,158.8 136.2,155.0 141.2,155.0 143.8,151.2 146.9,147.5 150.0,146.0 156.0,144.5 163.0,139.4 166.9,136.9 170.0,137.5 176.2,132.5 180.6,135.0 185.6,131.2 190.0,137.5 192.5,140.0 195.6,139.4 198.8,145.0 202.5,153.0 208.8,162.5 213.8,175.0 219.4,187.5 223.1,200.0 226.0,205.0 235.6,217.5 243.8,230.0 248.8,238.8 242.5,238.8 236.2,230.0 227.5,217.5 220.6,205.0 216.9,200.0 211.2,187.5 206.9,175.0 200.6,162.5 197.5,153.8 195.0,150.0 190.0,146.9 186.2,141.2 181.9,145.6 176.9,142.5 171.2,146.9 166.2,146.9 160.0,152.5 153.8,153.8 147.5,157.5 142.5,163.0 137.5,164.4 131.2,171.2 125.0,181.2 118.8,195.0 114.6,208.8 111.9,227.5" fill="#fff" stroke="#fff" stroke-width="0.8" stroke-linejoin="round"/>
<polyline points="269.0,240.0 269.3,257.0 272.0,258.0 276.0,260.0 280.0,263.0 285.0,268.0 290.0,276.0 295.0,283.0 300.0,287.5 310.0,292.5 316.0,293.5" fill="none" stroke="#fff" stroke-width="3.6" stroke-linejoin="round" stroke-linecap="butt" />
<polygon points="150.1,20.0 153.5,20.0 153.8,137.0 154.2,150.0 147.2,152.0 147.2,137.0 149.9,136.5" fill="#fff" stroke="#fff" stroke-width="0.8" stroke-linejoin="round"/>
<polyline points="156.0,115.0 156.0,150.0" fill="none" stroke="#fff" stroke-width="2.2" stroke-linejoin="round" stroke-linecap="butt" />
<polyline points="160.6,107.5 160.6,148.0" fill="none" stroke="#fff" stroke-width="3.4" stroke-linejoin="round" stroke-linecap="butt" />
<polyline points="240.4,173.5 240.6,226.0" fill="none" stroke="#fff" stroke-width="2.8" stroke-linejoin="round" stroke-linecap="butt" />
<polyline points="278.2,223.5 278.4,259.0" fill="none" stroke="#fff" stroke-width="2.6" stroke-linejoin="round" stroke-linecap="butt" />
<polygon points="245.5,241.0 245.6,134.0 249.4,134.0 250.0,141.0 253.0,141.0 253.8,173.0 255.8,173.0 257.0,139.0 259.4,139.0 260.2,147.0 263.8,147.0 265.0,185.0 266.0,195.0 269.0,195.0 270.0,258.0 268.0,258.0 267.5,228.0 266.0,215.0 264.0,228.0 262.5,212.0 260.0,226.0 258.5,210.0 256.0,222.0 254.0,208.0 251.5,225.0 250.0,212.0 249.5,240.0" fill="#fff" stroke="#fff" stroke-width="0.8" stroke-linejoin="round"/>
</g>
<g clip-path="url(#c1)">
<polyline points="328.4,280.0 328.9,92.0" fill="none" stroke="#fff" stroke-width="2.8" stroke-linejoin="round" stroke-linecap="butt" />
<polyline points="327.0,277.4 328.8,277.5 343.8,278.8 362.5,280.0 372.5,278.8 377.5,275.0 381.2,266.2 383.8,256.2 386.2,246.2" fill="none" stroke="#fff" stroke-width="3.9" stroke-linejoin="round" stroke-linecap="butt" />
<polyline points="383.8,256.2 386.5,248.0 391.2,226.0 394.0,207.5 397.8,195.0 401.0,188.0" fill="none" stroke="#fff" stroke-width="5.3" stroke-linejoin="round" stroke-linecap="butt" />
<polygon points="388.5,226.0 391.1,207.5 394.5,195.0 399.5,181.5 406.0,168.8 409.0,162.0 416.0,159.5 422.5,156.0 427.5,151.5 436.2,147.5 445.0,140.0 451.2,138.0 456.2,135.0 461.2,138.0 466.2,133.8 471.2,140.0 477.5,145.0 480.6,152.5 486.9,165.0 491.9,177.5 496.9,190.0 500.6,195.0 505.6,207.5 514.4,220.0 521.9,232.5 526.2,245.0 527.0,256.0 526.0,256.0 520.0,245.0 513.0,232.5 505.0,220.0 498.8,207.5 493.0,195.0 490.6,190.0 485.0,177.5 478.8,165.0 476.2,156.0 471.2,150.0 466.2,144.4 461.2,147.5 456.2,145.6 451.2,150.0 445.0,153.8 436.2,160.0 430.0,160.5 425.0,164.5 421.2,167.8 416.2,171.8 409.0,181.5 401.5,195.0 397.0,207.5 394.0,226.0" fill="#fff" stroke="#fff" stroke-width="0.8" stroke-linejoin="round"/>
<polyline points="371.6,277.3 375.1,276.6 379.1,274.2 384.1,269.2 389.1,259.2 393.6,250.0 397.6,243.5 401.6,239.2 406.6,229.2 411.6,221.8 416.6,218.0 424.1,211.8 430.4,205.5 439.1,196.8 449.1,187.5 459.1,179.0 464.1,176.0 469.1,176.0 474.1,181.0 479.1,188.5 481.6,193.0 489.1,205.5 495.4,218.0 501.6,230.5 505.4,236.8 514.1,245.5 519.1,248.5 525.1,253.0" fill="none" stroke="#fff" stroke-width="1.6" stroke-linejoin="round" stroke-linecap="butt" />
<polyline points="373.4,281.3 376.9,280.6 380.9,278.2 385.9,273.2 390.9,263.2 395.4,254.0 399.4,247.5 403.4,243.2 408.4,233.2 413.4,225.8 418.4,222.0 425.9,215.8 432.1,209.5 440.9,200.8 450.9,191.5 460.9,183.0 465.9,180.0 470.9,180.0 475.9,185.0 480.9,192.5 483.4,197.0 490.9,209.5 497.1,222.0 503.4,234.5 507.1,240.8 515.9,249.5 520.9,252.5 526.9,257.0" fill="none" stroke="#fff" stroke-width="1.6" stroke-linejoin="round" stroke-linecap="butt" />
<polyline points="549.5,267.0 552.0,262.5 556.0,262.5 560.0,266.0 565.0,270.0 572.0,280.0 580.0,288.0 590.0,292.0 596.0,293.0" fill="none" stroke="#fff" stroke-width="3.6" stroke-linejoin="round" stroke-linecap="butt" />
<polyline points="549.8,263.0 553.0,259.8 557.0,259.5 561.0,264.5 566.0,270.5" fill="none" stroke="#fff" stroke-width="2.6" stroke-linejoin="round" stroke-linecap="butt" />
<polyline points="428.9,20.0 428.9,74.0" fill="none" stroke="#fff" stroke-width="2.3" stroke-linejoin="round" stroke-linecap="butt" />
<polyline points="432.1,20.0 432.1,74.0" fill="none" stroke="#fff" stroke-width="2.8" stroke-linejoin="round" stroke-linecap="butt" />
<polygon points="427.5,73.0 433.6,73.0 434.1,150.0 434.1,190.0 433.6,208.0 430.8,208.0 429.8,190.0 428.7,150.0 427.8,120.0" fill="#fff" stroke="#fff" stroke-width="0.8" stroke-linejoin="round"/>
<polyline points="436.4,129.5 436.4,150.0" fill="none" stroke="#fff" stroke-width="2.3" stroke-linejoin="round" stroke-linecap="butt" />
<polyline points="441.4,118.8 441.4,148.0" fill="none" stroke="#fff" stroke-width="3.0" stroke-linejoin="round" stroke-linecap="butt" />
<polyline points="520.4,165.0 520.9,236.0" fill="none" stroke="#fff" stroke-width="2.8" stroke-linejoin="round" stroke-linecap="butt" />
<polyline points="557.3,251.0 557.3,264.0" fill="none" stroke="#fff" stroke-width="2.6" stroke-linejoin="round" stroke-linecap="butt" />
<polygon points="525.3,256.0 526.2,126.0 529.4,126.0 530.0,135.0 530.6,115.0 533.5,115.0 534.3,146.0 536.6,146.0 537.0,139.4 539.8,139.4 540.2,108.8 543.5,108.8 544.5,150.0 546.0,150.0 549.0,170.0 550.5,205.0 550.8,267.0 548.5,267.0 547.5,230.0 546.0,180.0 542.0,180.0 541.5,207.0 535.5,207.0 535.0,185.0 532.0,185.0 531.0,251.0 528.5,251.0 528.0,256.0" fill="#fff" stroke="#fff" stroke-width="0.8" stroke-linejoin="round"/>
</g>
<g font-family="DejaVu Sans, Liberation Sans, sans-serif" font-size="11.4" fill="#000" text-anchor="middle">
<rect x="49" y="408" width="1" height="5.2" shape-rendering="crispEdges"/>
<text transform="translate(49.10,426.6) scale(0.77,1)">0</text>
<rect x="89" y="408" width="1" height="5.2" shape-rendering="crispEdges"/>
<text transform="translate(89.10,426.6) scale(0.77,1)">50</text>
<rect x="130" y="408" width="1" height="5.2" shape-rendering="crispEdges"/>
<text transform="translate(130.10,426.6) scale(0.77,1)">100</text>
<rect x="171" y="408" width="1" height="5.2" shape-rendering="crispEdges"/>
<text transform="translate(171.10,426.6) scale(0.77,1)">150</text>
<rect x="212" y="408" width="1" height="5.2" shape-rendering="crispEdges"/>
<text transform="translate(212.10,426.6) scale(0.77,1)">200</text>
<rect x="252" y="408" width="1" height="5.2" shape-rendering="crispEdges"/>
<text transform="translate(252.10,426.6) scale(0.77,1)">250</text>
<rect x="293" y="408" width="1" height="5.2" shape-rendering="crispEdges"/>
<text transform="translate(293.10,426.6) scale(0.77,1)">300</text>
<rect x="329" y="408" width="1" height="5.2" shape-rendering="crispEdges"/>
<text transform="translate(329.10,426.6) scale(0.77,1)">0</text>
<rect x="370" y="408" width="1" height="5.2" shape-rendering="crispEdges"/>
<text transform="translate(370.10,426.6) scale(0.77,1)">50</text>
<rect x="410" y="408" width="1" height="5.2" shape-rendering="crispEdges"/>
<text transform="translate(410.10,426.6) scale(0.77,1)">100</text>
<rect x="451" y="408" width="1" height="5.2" shape-rendering="crispEdges"/>
<text transform="translate(451.10,426.6) scale(0.77,1)">150</text>
<rect x="492" y="408" width="1" height="5.2" shape-rendering="crispEdges"/>
<text transform="translate(492.10,426.6) scale(0.77,1)">200</text>
<rect x="533" y="408" width="1" height="5.2" shape-rendering="crispEdges"/>
<text transform="translate(533.10,426.6) scale(0.77,1)">250</text>
<rect x="573" y="408" width="1" height="5.2" shape-rendering="crispEdges"/>
<text transform="translate(573.10,426.6) scale(0.77,1)">300</text>
</g>
<g font-family="DejaVu Sans, Liberation Sans, sans-serif" font-size="13.89" fill="#000">
<text x="32.3" y="42.05" text-anchor="end">On</text>
<text x="611.4" y="42.05">On</text>
<text x="32.3" y="58.74" text-anchor="end">Y</text>
<text x="611.4" y="58.74">Y</text>
<text x="32.3" y="75.44" text-anchor="end">Off</text>
<text x="611.4" y="75.44">Off</text>
<text x="32.3" y="92.13" text-anchor="end">P</text>
<text x="611.4" y="92.13">P</text>
<text x="32.3" y="108.83" text-anchor="end">O</text>
<text x="611.4" y="108.83">O</text>
<text x="32.3" y="125.53" text-anchor="end">N</text>
<text x="611.4" y="125.53">N</text>
<text x="32.3" y="142.22" text-anchor="end">M</text>
<text x="611.4" y="142.22">M</text>
<text x="32.3" y="158.92" text-anchor="end">L</text>
<text x="611.4" y="158.92">L</text>
<text x="32.3" y="175.61" text-anchor="end">K</text>
<text x="611.4" y="175.61">K</text>
<text x="32.3" y="192.31" text-anchor="end">J</text>
<text x="611.4" y="192.31">J</text>
<text x="32.3" y="209.00" text-anchor="end">I</text>
<text x="611.4" y="209.00">I</text>
<text x="32.3" y="225.70" text-anchor="end">H</text>
<text x="611.4" y="225.70">H</text>
<text x="32.3" y="242.39" text-anchor="end">G</text>
<text x="611.4" y="242.39">G</text>
<text x="32.3" y="259.09" text-anchor="end">F</text>
<text x="611.4" y="259.09">F</text>
<text x="32.3" y="275.78" text-anchor="end">E</text>
<text x="611.4" y="275.78">E</text>
<text x="32.3" y="292.48" text-anchor="end">D</text>
<text x="611.4" y="292.48">D</text>
<text x="32.3" y="309.18" text-anchor="end">C</text>
<text x="611.4" y="309.18">C</text>
<text x="32.3" y="325.87" text-anchor="end">B</text>
<text x="611.4" y="325.87">B **</text>
<text x="32.3" y="342.57" text-anchor="end">A</text>
<text x="611.4" y="342.57">A **</text>
<text x="32.3" y="359.26" text-anchor="end">Off</text>
<text x="611.4" y="359.26">Off</text>
<text x="32.3" y="375.96" text-anchor="end">X</text>
<text x="611.4" y="375.96">X</text>
<text x="32.3" y="392.65" text-anchor="end">On</text>
<text x="611.4" y="392.65">On</text>
<text transform="translate(2.75,217.5) rotate(-90)" text-anchor="middle">Dipole</text>
</g>
<g font-family="DejaVu Sans, Liberation Sans, sans-serif" font-size="16.67" fill="#000" text-anchor="middle">
<text x="181.7" y="16.3">27.7 (HexS27=1063) X</text>
<text x="461.8" y="16.3">27.7 (HexS27=1063) Y</text>
</g>
</svg>
</body></html>
